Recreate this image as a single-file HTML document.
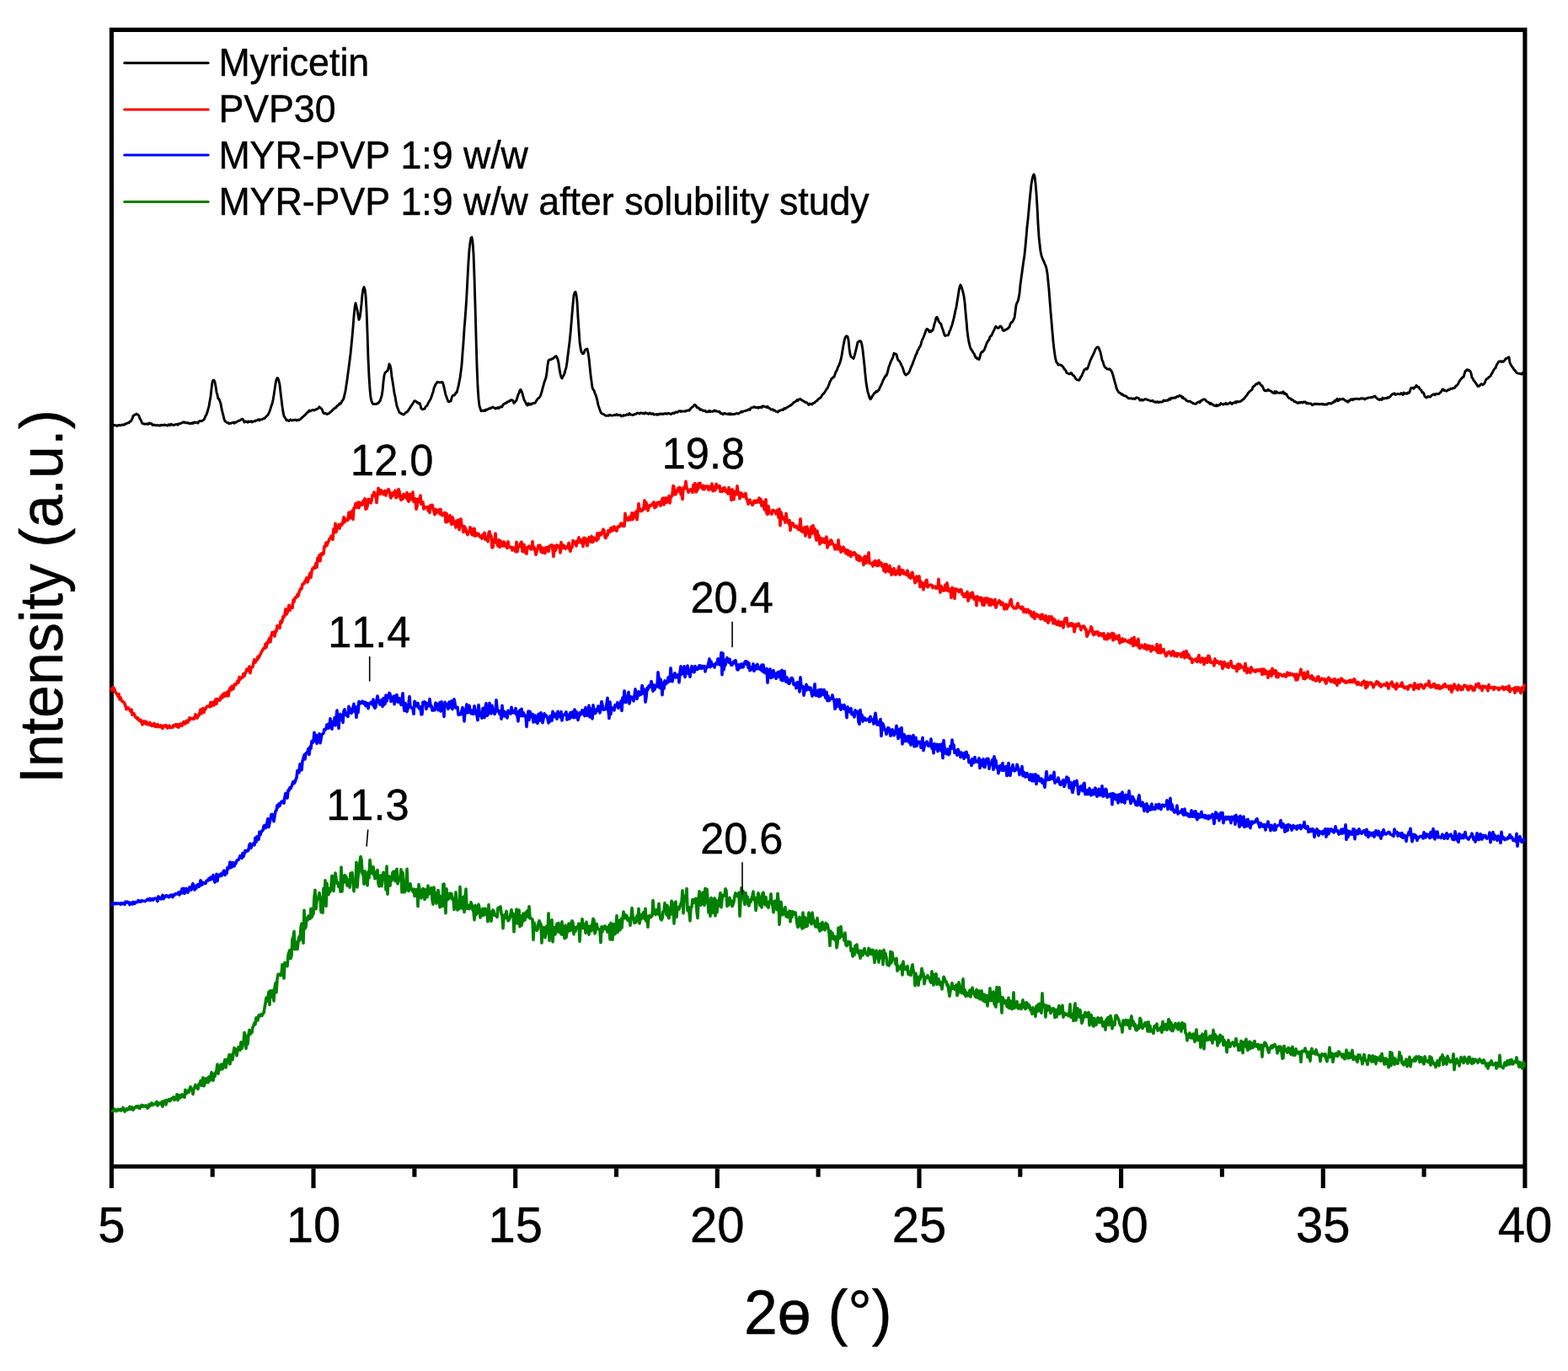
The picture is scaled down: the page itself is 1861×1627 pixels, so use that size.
<!DOCTYPE html>
<html lang="en"><head><meta charset="utf-8"><title>XRD patterns</title>
<style>html,body{margin:0;padding:0;background:#fff}body{width:1861px;height:1627px;overflow:hidden}svg{display:block}text{font-family:"Liberation Sans",sans-serif;fill:#000;stroke:#000;stroke-width:0.45px;stroke-linejoin:round;font-kerning:none;font-variant-ligatures:none;white-space:pre}</style></head><body>
<svg width="1861" height="1627" viewBox="0 0 1861 1627">
<rect x="0" y="0" width="1861" height="1627" fill="#ffffff"/>
<g stroke="#000" stroke-width="5.1" fill="none" stroke-linecap="butt" stroke-linejoin="miter">
<path d="M132.4,1410 L132.4,35.4 L1809.9,35.4 L1809.9,1410"/>
<line x1="132.4" y1="1384.3" x2="1809.9" y2="1384.3"/>
<line x1="252.2" y1="1386.55" x2="252.2" y2="1396.7"/>
<line x1="372.0" y1="1386.55" x2="372.0" y2="1410"/>
<line x1="491.9" y1="1386.55" x2="491.9" y2="1396.7"/>
<line x1="611.7" y1="1386.55" x2="611.7" y2="1410"/>
<line x1="731.5" y1="1386.55" x2="731.5" y2="1396.7"/>
<line x1="851.3" y1="1386.55" x2="851.3" y2="1410"/>
<line x1="971.1" y1="1386.55" x2="971.1" y2="1396.7"/>
<line x1="1091.0" y1="1386.55" x2="1091.0" y2="1410"/>
<line x1="1210.8" y1="1386.55" x2="1210.8" y2="1396.7"/>
<line x1="1330.6" y1="1386.55" x2="1330.6" y2="1410"/>
<line x1="1450.4" y1="1386.55" x2="1450.4" y2="1396.7"/>
<line x1="1570.3" y1="1386.55" x2="1570.3" y2="1410"/>
<line x1="1690.1" y1="1386.55" x2="1690.1" y2="1396.7"/>
</g>
<g fill="none" stroke-linejoin="round" stroke-miterlimit="4" stroke-linecap="butt">
<path stroke="#008000" stroke-width="3.6" d="M132.0,1318.2 L133.0,1318.5 L134.0,1318.1 L135.0,1318.0 L136.0,1316.2 L137.0,1317.5 L138.0,1318.6 L139.0,1318.0 L140.0,1316.4 L141.0,1317.3 L142.0,1317.7 L143.0,1316.4 L144.0,1317.9 L145.0,1316.3 L146.0,1314.5 L147.0,1316.7 L148.0,1319.1 L149.0,1316.3 L150.0,1315.8 L151.0,1317.2 L152.0,1315.7 L153.0,1316.3 L154.0,1313.3 L155.0,1316.2 L156.0,1315.7 L157.0,1314.0 L158.0,1317.2 L159.0,1315.1 L160.0,1315.0 L161.0,1313.4 L162.0,1312.9 L163.0,1314.1 L164.0,1312.6 L165.0,1315.1 L166.0,1315.4 L167.0,1313.1 L168.0,1311.5 L169.0,1313.0 L170.0,1311.8 L171.0,1313.3 L172.0,1313.1 L173.0,1311.9 L174.0,1312.4 L175.0,1315.2 L176.0,1314.4 L177.0,1310.7 L178.0,1312.4 L179.0,1310.6 L180.0,1309.0 L181.0,1311.5 L182.0,1310.8 L183.0,1310.1 L184.0,1310.3 L185.0,1309.2 L186.0,1307.4 L187.0,1312.1 L188.0,1310.4 L189.0,1309.0 L190.0,1310.0 L191.0,1310.4 L192.0,1307.5 L193.0,1313.1 L194.0,1306.7 L195.0,1308.2 L196.0,1306.2 L197.0,1311.0 L198.0,1305.4 L199.0,1306.8 L200.0,1306.4 L201.0,1304.5 L202.0,1306.6 L203.0,1304.3 L204.0,1303.3 L205.0,1303.7 L206.0,1301.8 L207.0,1305.4 L208.0,1303.9 L209.0,1304.2 L210.0,1298.9 L211.0,1305.6 L212.0,1299.2 L213.0,1300.6 L214.0,1302.8 L215.0,1300.2 L216.0,1298.8 L217.0,1301.3 L218.0,1300.7 L219.0,1302.2 L220.0,1293.3 L221.0,1297.9 L222.0,1295.8 L223.0,1294.3 L224.0,1296.2 L225.0,1292.7 L226.0,1289.7 L227.0,1292.5 L228.0,1293.6 L229.0,1298.4 L230.0,1291.6 L231.0,1290.0 L232.0,1287.4 L233.0,1290.9 L234.0,1290.6 L235.0,1292.4 L236.0,1286.2 L237.0,1287.3 L238.0,1282.6 L239.0,1288.3 L240.0,1282.9 L241.0,1278.9 L242.0,1288.8 L243.0,1286.2 L244.0,1280.1 L245.0,1284.3 L246.0,1279.5 L247.0,1284.7 L248.0,1277.8 L249.0,1282.4 L250.0,1279.7 L251.0,1272.6 L252.0,1279.8 L253.0,1282.2 L254.0,1274.4 L255.0,1277.5 L256.0,1272.6 L257.0,1270.3 L258.0,1263.0 L259.0,1274.2 L260.0,1267.8 L261.0,1269.4 L262.0,1263.5 L263.0,1263.1 L264.0,1268.8 L265.0,1264.1 L266.0,1261.5 L267.0,1257.5 L268.0,1267.0 L269.0,1262.2 L270.0,1256.8 L271.0,1256.6 L272.0,1251.8 L273.0,1262.8 L274.0,1251.7 L275.0,1252.2 L276.0,1257.8 L277.0,1249.7 L278.0,1243.6 L279.0,1244.8 L280.0,1245.7 L281.0,1252.7 L282.0,1245.6 L283.0,1242.7 L284.0,1245.5 L285.0,1246.2 L286.0,1236.9 L287.0,1244.3 L288.0,1240.8 L289.0,1237.9 L290.0,1225.3 L291.0,1228.6 L292.0,1244.5 L293.0,1229.7 L294.0,1239.0 L295.0,1228.3 L296.0,1222.2 L297.0,1227.5 L298.0,1224.6 L299.0,1225.3 L300.0,1219.1 L301.0,1217.0 L302.0,1213.9 L303.0,1215.6 L304.0,1207.8 L305.0,1208.0 L306.0,1210.8 L307.0,1205.1 L308.0,1204.3 L309.0,1205.7 L310.0,1204.0 L311.0,1205.3 L312.0,1202.8 L313.0,1202.2 L314.0,1196.4 L315.0,1190.9 L316.0,1184.0 L317.0,1188.1 L318.0,1184.0 L319.0,1177.0 L320.0,1192.4 L321.0,1175.6 L322.0,1183.1 L323.0,1181.3 L324.0,1175.3 L325.0,1187.9 L326.0,1172.6 L327.0,1166.5 L328.0,1177.6 L329.0,1162.0 L330.0,1156.4 L331.0,1156.4 L332.0,1156.1 L333.0,1157.6 L334.0,1157.0 L335.0,1144.6 L336.0,1152.7 L337.0,1161.0 L338.0,1142.4 L339.0,1143.4 L340.0,1145.9 L341.0,1146.7 L342.0,1133.8 L343.0,1129.9 L344.0,1127.5 L345.0,1137.5 L346.0,1134.3 L347.0,1114.2 L348.0,1112.2 L349.0,1105.4 L350.0,1126.6 L351.0,1121.2 L352.0,1118.1 L353.0,1126.6 L354.0,1117.6 L355.0,1111.5 L356.0,1115.9 L357.0,1101.2 L358.0,1096.0 L359.0,1102.8 L360.0,1119.1 L361.0,1080.2 L362.0,1102.1 L363.0,1100.0 L364.0,1089.4 L365.0,1092.1 L366.0,1087.1 L367.0,1087.5 L368.0,1090.4 L369.0,1078.3 L370.0,1088.5 L371.0,1085.8 L372.0,1084.5 L373.0,1064.1 L374.0,1056.3 L375.0,1078.6 L376.0,1068.7 L377.0,1066.6 L378.0,1064.7 L379.0,1059.5 L380.0,1065.1 L381.0,1082.4 L382.0,1074.2 L383.0,1083.1 L384.0,1054.1 L385.0,1068.4 L386.0,1044.7 L387.0,1075.5 L388.0,1048.3 L389.0,1060.3 L390.0,1061.5 L391.0,1054.3 L392.0,1058.3 L393.0,1051.5 L394.0,1039.2 L395.0,1052.7 L396.0,1057.4 L397.0,1044.7 L398.0,1036.0 L399.0,1042.7 L400.0,1048.3 L401.0,1047.4 L402.0,1052.3 L403.0,1047.9 L404.0,1058.1 L405.0,1029.0 L406.0,1057.9 L407.0,1042.3 L408.0,1047.5 L409.0,1038.6 L410.0,1039.6 L411.0,1040.7 L412.0,1051.0 L413.0,1050.3 L414.0,1043.7 L415.0,1053.1 L416.0,1036.2 L417.0,1042.4 L418.0,1035.5 L419.0,1047.6 L420.0,1057.6 L421.0,1045.1 L422.0,1050.2 L423.0,1023.3 L424.0,1052.9 L425.0,1039.7 L426.0,1035.0 L427.0,1023.5 L428.0,1016.5 L429.0,1020.4 L430.0,1037.0 L431.0,1035.1 L432.0,1049.1 L433.0,1033.9 L434.0,1043.8 L435.0,1044.5 L436.0,1050.8 L437.0,1034.6 L438.0,1041.8 L439.0,1020.6 L440.0,1028.9 L441.0,1035.0 L442.0,1036.9 L443.0,1028.8 L444.0,1036.5 L445.0,1042.8 L446.0,1035.0 L447.0,1037.4 L448.0,1032.5 L449.0,1048.7 L450.0,1051.8 L451.0,1040.9 L452.0,1038.8 L453.0,1051.5 L454.0,1043.3 L455.0,1035.3 L456.0,1037.5 L457.0,1036.2 L458.0,1055.9 L459.0,1028.0 L460.0,1061.2 L461.0,1041.2 L462.0,1039.9 L463.0,1051.0 L464.0,1040.3 L465.0,1045.0 L466.0,1035.5 L467.0,1034.4 L468.0,1038.4 L469.0,1045.6 L470.0,1033.1 L471.0,1031.3 L472.0,1048.8 L473.0,1044.8 L474.0,1044.5 L475.0,1042.6 L476.0,1031.7 L477.0,1058.9 L478.0,1035.2 L479.0,1052.4 L480.0,1058.8 L481.0,1057.4 L482.0,1051.4 L483.0,1031.3 L484.0,1053.0 L485.0,1057.5 L486.0,1055.6 L487.0,1048.9 L488.0,1055.5 L489.0,1055.4 L490.0,1058.0 L491.0,1055.0 L492.0,1063.4 L493.0,1055.8 L494.0,1060.9 L495.0,1055.5 L496.0,1075.6 L497.0,1049.6 L498.0,1055.4 L499.0,1060.5 L500.0,1065.9 L501.0,1057.0 L502.0,1054.5 L503.0,1054.9 L504.0,1067.5 L505.0,1059.7 L506.0,1055.9 L507.0,1064.7 L508.0,1051.0 L509.0,1061.1 L510.0,1060.4 L511.0,1060.1 L512.0,1053.5 L513.0,1068.2 L514.0,1073.2 L515.0,1053.1 L516.0,1063.1 L517.0,1066.8 L518.0,1072.1 L519.0,1059.9 L520.0,1056.5 L521.0,1063.0 L522.0,1076.7 L523.0,1063.7 L524.0,1065.2 L525.0,1075.5 L526.0,1049.2 L527.0,1049.1 L528.0,1070.0 L529.0,1083.8 L530.0,1054.8 L531.0,1067.9 L532.0,1065.0 L533.0,1066.5 L534.0,1060.1 L535.0,1063.0 L536.0,1060.7 L537.0,1067.4 L538.0,1066.1 L539.0,1079.5 L540.0,1073.0 L541.0,1058.8 L542.0,1072.7 L543.0,1080.0 L544.0,1072.8 L545.0,1078.6 L546.0,1052.3 L547.0,1076.9 L548.0,1066.4 L549.0,1078.3 L550.0,1064.3 L551.0,1082.4 L552.0,1064.1 L553.0,1055.1 L554.0,1078.3 L555.0,1074.0 L556.0,1076.2 L557.0,1078.7 L558.0,1076.0 L559.0,1070.8 L560.0,1073.4 L561.0,1079.9 L562.0,1081.3 L563.0,1091.7 L564.0,1074.3 L565.0,1085.7 L566.0,1083.8 L567.0,1077.8 L568.0,1073.3 L569.0,1077.9 L570.0,1089.0 L571.0,1080.6 L572.0,1086.7 L573.0,1078.2 L574.0,1086.2 L575.0,1079.1 L576.0,1078.2 L577.0,1084.6 L578.0,1084.4 L579.0,1093.7 L580.0,1073.6 L581.0,1087.6 L582.0,1087.3 L583.0,1093.2 L584.0,1081.9 L585.0,1080.0 L586.0,1081.2 L587.0,1086.4 L588.0,1086.2 L589.0,1086.8 L590.0,1088.4 L591.0,1077.6 L592.0,1077.2 L593.0,1076.7 L594.0,1076.0 L595.0,1084.2 L596.0,1087.0 L597.0,1101.6 L598.0,1088.8 L599.0,1085.6 L600.0,1089.3 L601.0,1081.2 L602.0,1088.4 L603.0,1092.7 L604.0,1091.8 L605.0,1089.6 L606.0,1085.0 L607.0,1079.5 L608.0,1086.9 L609.0,1084.3 L610.0,1105.8 L611.0,1087.9 L612.0,1092.7 L613.0,1079.0 L614.0,1095.9 L615.0,1084.4 L616.0,1080.1 L617.0,1099.6 L618.0,1086.7 L619.0,1098.2 L620.0,1093.6 L621.0,1084.1 L622.0,1092.5 L623.0,1091.7 L624.0,1082.7 L625.0,1086.8 L626.0,1080.5 L627.0,1088.4 L628.0,1075.7 L629.0,1089.8 L630.0,1089.4 L631.0,1090.7 L632.0,1091.1 L633.0,1115.3 L634.0,1095.0 L635.0,1099.2 L636.0,1102.9 L637.0,1104.2 L638.0,1103.2 L639.0,1095.8 L640.0,1092.7 L641.0,1095.0 L642.0,1097.3 L643.0,1118.9 L644.0,1100.2 L645.0,1107.9 L646.0,1100.6 L647.0,1112.6 L648.0,1108.0 L649.0,1098.7 L650.0,1107.2 L651.0,1083.9 L652.0,1116.3 L653.0,1104.6 L654.0,1104.5 L655.0,1091.5 L656.0,1117.8 L657.0,1100.4 L658.0,1101.0 L659.0,1108.9 L660.0,1100.6 L661.0,1096.4 L662.0,1105.8 L663.0,1095.3 L664.0,1106.3 L665.0,1102.4 L666.0,1108.6 L667.0,1093.9 L668.0,1109.2 L669.0,1103.2 L670.0,1113.6 L671.0,1098.0 L672.0,1112.6 L673.0,1105.3 L674.0,1105.7 L675.0,1096.0 L676.0,1104.0 L677.0,1104.5 L678.0,1095.0 L679.0,1092.8 L680.0,1095.0 L681.0,1108.8 L682.0,1100.4 L683.0,1105.1 L684.0,1100.8 L685.0,1099.6 L686.0,1100.1 L687.0,1096.0 L688.0,1117.1 L689.0,1099.9 L690.0,1100.4 L691.0,1090.5 L692.0,1101.5 L693.0,1100.6 L694.0,1097.1 L695.0,1107.1 L696.0,1094.0 L697.0,1100.0 L698.0,1105.5 L699.0,1109.1 L700.0,1099.0 L701.0,1104.6 L702.0,1104.7 L703.0,1096.2 L704.0,1090.3 L705.0,1091.9 L706.0,1107.9 L707.0,1105.0 L708.0,1096.2 L709.0,1100.7 L710.0,1102.3 L711.0,1102.6 L712.0,1104.6 L713.0,1118.5 L714.0,1099.9 L715.0,1105.6 L716.0,1099.9 L717.0,1100.6 L718.0,1098.9 L719.0,1102.8 L720.0,1100.7 L721.0,1106.1 L722.0,1104.9 L723.0,1097.7 L724.0,1114.9 L725.0,1095.2 L726.0,1104.2 L727.0,1115.1 L728.0,1096.5 L729.0,1108.6 L730.0,1108.5 L731.0,1101.1 L732.0,1086.6 L733.0,1106.5 L734.0,1097.4 L735.0,1092.7 L736.0,1103.6 L737.0,1090.3 L738.0,1101.0 L739.0,1090.2 L740.0,1082.0 L741.0,1085.8 L742.0,1089.7 L743.0,1086.0 L744.0,1086.9 L745.0,1092.2 L746.0,1089.6 L747.0,1091.5 L748.0,1098.2 L749.0,1088.9 L750.0,1077.5 L751.0,1087.2 L752.0,1089.3 L753.0,1095.1 L754.0,1095.0 L755.0,1094.3 L756.0,1086.5 L757.0,1092.0 L758.0,1078.4 L759.0,1095.9 L760.0,1090.3 L761.0,1090.6 L762.0,1084.8 L763.0,1087.5 L764.0,1082.7 L765.0,1090.6 L766.0,1078.4 L767.0,1093.2 L768.0,1090.5 L769.0,1100.1 L770.0,1086.9 L771.0,1086.6 L772.0,1088.6 L773.0,1087.7 L774.0,1086.8 L775.0,1068.6 L776.0,1080.3 L777.0,1083.7 L778.0,1085.4 L779.0,1079.5 L780.0,1079.5 L781.0,1084.9 L782.0,1072.4 L783.0,1085.0 L784.0,1090.3 L785.0,1091.8 L786.0,1090.0 L787.0,1081.9 L788.0,1081.5 L789.0,1071.5 L790.0,1078.5 L791.0,1085.4 L792.0,1074.6 L793.0,1087.5 L794.0,1089.7 L795.0,1077.3 L796.0,1085.1 L797.0,1069.2 L798.0,1071.0 L799.0,1074.8 L800.0,1096.0 L801.0,1075.0 L802.0,1070.1 L803.0,1088.4 L804.0,1077.0 L805.0,1076.7 L806.0,1079.0 L807.0,1075.5 L808.0,1072.6 L809.0,1070.4 L810.0,1056.7 L811.0,1083.8 L812.0,1067.9 L813.0,1063.0 L814.0,1068.7 L815.0,1054.6 L816.0,1080.6 L817.0,1076.2 L818.0,1082.9 L819.0,1092.7 L820.0,1076.8 L821.0,1076.5 L822.0,1067.5 L823.0,1071.4 L824.0,1067.6 L825.0,1071.5 L826.0,1066.2 L827.0,1081.2 L828.0,1089.5 L829.0,1068.8 L830.0,1057.9 L831.0,1073.2 L832.0,1074.1 L833.0,1067.4 L834.0,1059.1 L835.0,1070.2 L836.0,1074.3 L837.0,1054.4 L838.0,1071.0 L839.0,1055.2 L840.0,1068.0 L841.0,1082.9 L842.0,1068.2 L843.0,1087.1 L844.0,1065.6 L845.0,1067.8 L846.0,1083.5 L847.0,1076.8 L848.0,1065.9 L849.0,1086.8 L850.0,1068.2 L851.0,1082.7 L852.0,1069.5 L853.0,1075.5 L854.0,1065.6 L855.0,1059.5 L856.0,1076.7 L857.0,1067.2 L858.0,1062.4 L859.0,1062.9 L860.0,1063.0 L861.0,1054.8 L862.0,1057.2 L863.0,1075.5 L864.0,1070.1 L865.0,1074.1 L866.0,1065.3 L867.0,1070.0 L868.0,1068.8 L869.0,1075.6 L870.0,1073.2 L871.0,1070.2 L872.0,1063.5 L873.0,1059.8 L874.0,1062.5 L875.0,1063.5 L876.0,1064.1 L877.0,1059.3 L878.0,1087.1 L879.0,1069.1 L880.0,1053.6 L881.0,1059.6 L882.0,1057.7 L883.0,1068.0 L884.0,1073.3 L885.0,1059.5 L886.0,1070.1 L887.0,1064.0 L888.0,1073.5 L889.0,1074.9 L890.0,1067.8 L891.0,1070.5 L892.0,1065.7 L893.0,1063.3 L894.0,1058.1 L895.0,1068.1 L896.0,1065.5 L897.0,1080.5 L898.0,1072.5 L899.0,1065.2 L900.0,1059.7 L901.0,1063.3 L902.0,1074.7 L903.0,1065.8 L904.0,1076.9 L905.0,1060.2 L906.0,1059.2 L907.0,1069.2 L908.0,1073.8 L909.0,1064.6 L910.0,1073.4 L911.0,1075.8 L912.0,1077.1 L913.0,1069.7 L914.0,1070.6 L915.0,1060.7 L916.0,1072.3 L917.0,1074.7 L918.0,1082.8 L919.0,1069.6 L920.0,1069.3 L921.0,1068.9 L922.0,1079.7 L923.0,1060.2 L924.0,1070.3 L925.0,1097.2 L926.0,1082.7 L927.0,1070.4 L928.0,1079.2 L929.0,1085.6 L930.0,1084.3 L931.0,1079.8 L932.0,1076.7 L933.0,1087.7 L934.0,1082.7 L935.0,1088.5 L936.0,1086.3 L937.0,1081.1 L938.0,1093.8 L939.0,1081.8 L940.0,1088.1 L941.0,1081.8 L942.0,1084.7 L943.0,1085.0 L944.0,1082.8 L945.0,1089.0 L946.0,1096.2 L947.0,1100.2 L948.0,1097.9 L949.0,1088.2 L950.0,1098.9 L951.0,1092.8 L952.0,1102.0 L953.0,1083.1 L954.0,1100.9 L955.0,1088.2 L956.0,1099.8 L957.0,1090.1 L958.0,1099.3 L959.0,1092.4 L960.0,1083.0 L961.0,1089.3 L962.0,1094.4 L963.0,1096.6 L964.0,1083.0 L965.0,1090.0 L966.0,1093.3 L967.0,1096.9 L968.0,1099.9 L969.0,1093.6 L970.0,1089.5 L971.0,1100.9 L972.0,1097.1 L973.0,1104.9 L974.0,1096.3 L975.0,1103.7 L976.0,1094.4 L977.0,1101.9 L978.0,1101.1 L979.0,1103.6 L980.0,1095.4 L981.0,1100.8 L982.0,1096.9 L983.0,1101.7 L984.0,1107.1 L985.0,1122.3 L986.0,1105.0 L987.0,1110.0 L988.0,1107.2 L989.0,1114.2 L990.0,1110.9 L991.0,1115.3 L992.0,1111.8 L993.0,1124.8 L994.0,1119.2 L995.0,1101.1 L996.0,1113.7 L997.0,1112.7 L998.0,1099.5 L999.0,1108.1 L1000.0,1111.1 L1001.0,1110.1 L1002.0,1116.1 L1003.0,1107.0 L1004.0,1121.4 L1005.0,1122.4 L1006.0,1120.6 L1007.0,1117.4 L1008.0,1120.1 L1009.0,1118.1 L1010.0,1128.4 L1011.0,1125.4 L1012.0,1134.9 L1013.0,1128.9 L1014.0,1133.3 L1015.0,1122.2 L1016.0,1125.4 L1017.0,1121.0 L1018.0,1130.7 L1019.0,1127.7 L1020.0,1131.9 L1021.0,1137.2 L1022.0,1128.3 L1023.0,1130.8 L1024.0,1133.8 L1025.0,1128.3 L1026.0,1125.5 L1027.0,1130.8 L1028.0,1131.7 L1029.0,1133.4 L1030.0,1133.8 L1031.0,1125.2 L1032.0,1131.9 L1033.0,1131.9 L1034.0,1127.3 L1035.0,1132.5 L1036.0,1127.4 L1037.0,1132.5 L1038.0,1142.2 L1039.0,1133.9 L1040.0,1128.1 L1041.0,1136.3 L1042.0,1136.2 L1043.0,1141.9 L1044.0,1128.3 L1045.0,1131.5 L1046.0,1136.8 L1047.0,1129.0 L1048.0,1144.7 L1049.0,1127.4 L1050.0,1134.7 L1051.0,1131.5 L1052.0,1136.5 L1053.0,1144.9 L1054.0,1144.0 L1055.0,1145.9 L1056.0,1144.1 L1057.0,1129.3 L1058.0,1142.4 L1059.0,1130.4 L1060.0,1138.0 L1061.0,1138.8 L1062.0,1138.2 L1063.0,1144.3 L1064.0,1137.4 L1065.0,1152.1 L1066.0,1146.3 L1067.0,1150.1 L1068.0,1148.3 L1069.0,1149.7 L1070.0,1145.1 L1071.0,1156.9 L1072.0,1141.0 L1073.0,1150.1 L1074.0,1148.3 L1075.0,1147.8 L1076.0,1150.9 L1077.0,1146.5 L1078.0,1156.1 L1079.0,1156.4 L1080.0,1153.3 L1081.0,1157.4 L1082.0,1148.4 L1083.0,1144.8 L1084.0,1152.0 L1085.0,1154.4 L1086.0,1169.6 L1087.0,1155.4 L1088.0,1162.7 L1089.0,1162.1 L1090.0,1169.3 L1091.0,1159.0 L1092.0,1162.2 L1093.0,1158.0 L1094.0,1149.3 L1095.0,1154.2 L1096.0,1155.6 L1097.0,1167.6 L1098.0,1161.7 L1099.0,1159.5 L1100.0,1160.5 L1101.0,1157.6 L1102.0,1160.5 L1103.0,1160.6 L1104.0,1164.5 L1105.0,1166.0 L1106.0,1152.7 L1107.0,1162.8 L1108.0,1169.0 L1109.0,1156.5 L1110.0,1160.8 L1111.0,1155.7 L1112.0,1168.3 L1113.0,1165.9 L1114.0,1161.8 L1115.0,1165.9 L1116.0,1168.9 L1117.0,1165.8 L1118.0,1173.9 L1119.0,1166.6 L1120.0,1159.2 L1121.0,1161.0 L1122.0,1164.8 L1123.0,1164.8 L1124.0,1169.5 L1125.0,1168.5 L1126.0,1176.0 L1127.0,1182.2 L1128.0,1175.6 L1129.0,1171.5 L1130.0,1166.7 L1131.0,1173.1 L1132.0,1170.7 L1133.0,1174.1 L1134.0,1172.8 L1135.0,1168.9 L1136.0,1181.4 L1137.0,1179.1 L1138.0,1165.7 L1139.0,1171.0 L1140.0,1174.6 L1141.0,1178.2 L1142.0,1174.6 L1143.0,1161.7 L1144.0,1179.7 L1145.0,1174.6 L1146.0,1182.1 L1147.0,1177.8 L1148.0,1181.7 L1149.0,1181.1 L1150.0,1181.7 L1151.0,1175.0 L1152.0,1183.0 L1153.0,1179.1 L1154.0,1172.1 L1155.0,1176.7 L1156.0,1177.3 L1157.0,1181.7 L1158.0,1183.1 L1159.0,1174.4 L1160.0,1184.0 L1161.0,1180.5 L1162.0,1176.0 L1163.0,1185.8 L1164.0,1178.3 L1165.0,1175.8 L1166.0,1186.6 L1167.0,1187.5 L1168.0,1180.0 L1169.0,1188.7 L1170.0,1188.6 L1171.0,1181.3 L1172.0,1193.8 L1173.0,1183.8 L1174.0,1185.4 L1175.0,1172.7 L1176.0,1187.7 L1177.0,1181.7 L1178.0,1187.1 L1179.0,1176.7 L1180.0,1191.0 L1181.0,1192.7 L1182.0,1195.0 L1183.0,1171.5 L1184.0,1189.1 L1185.0,1188.1 L1186.0,1171.8 L1187.0,1183.2 L1188.0,1186.6 L1189.0,1201.9 L1190.0,1183.6 L1191.0,1186.3 L1192.0,1188.2 L1193.0,1190.7 L1194.0,1187.5 L1195.0,1194.2 L1196.0,1195.0 L1197.0,1184.1 L1198.0,1196.5 L1199.0,1187.9 L1200.0,1190.5 L1201.0,1197.5 L1202.0,1195.1 L1203.0,1177.9 L1204.0,1196.5 L1205.0,1190.8 L1206.0,1190.4 L1207.0,1188.6 L1208.0,1196.5 L1209.0,1196.9 L1210.0,1195.0 L1211.0,1192.4 L1212.0,1197.4 L1213.0,1193.2 L1214.0,1186.9 L1215.0,1194.8 L1216.0,1196.0 L1217.0,1197.4 L1218.0,1189.6 L1219.0,1190.4 L1220.0,1195.8 L1221.0,1192.2 L1222.0,1194.1 L1223.0,1199.0 L1224.0,1196.4 L1225.0,1203.2 L1226.0,1195.8 L1227.0,1202.5 L1228.0,1199.3 L1229.0,1206.2 L1230.0,1194.0 L1231.0,1193.4 L1232.0,1199.9 L1233.0,1191.2 L1234.0,1191.4 L1235.0,1199.7 L1236.0,1202.1 L1237.0,1178.9 L1238.0,1194.8 L1239.0,1192.2 L1240.0,1193.6 L1241.0,1206.9 L1242.0,1193.1 L1243.0,1199.3 L1244.0,1196.8 L1245.0,1194.0 L1246.0,1195.6 L1247.0,1202.4 L1248.0,1199.9 L1249.0,1199.2 L1250.0,1196.5 L1251.0,1198.2 L1252.0,1207.5 L1253.0,1198.3 L1254.0,1206.7 L1255.0,1203.2 L1256.0,1197.6 L1257.0,1193.4 L1258.0,1203.2 L1259.0,1197.3 L1260.0,1197.6 L1261.0,1193.2 L1262.0,1207.1 L1263.0,1202.3 L1264.0,1202.3 L1265.0,1204.3 L1266.0,1203.9 L1267.0,1203.4 L1268.0,1205.6 L1269.0,1202.2 L1270.0,1191.8 L1271.0,1207.2 L1272.0,1205.9 L1273.0,1204.1 L1274.0,1211.4 L1275.0,1197.7 L1276.0,1190.9 L1277.0,1211.0 L1278.0,1206.0 L1279.0,1196.6 L1280.0,1202.2 L1281.0,1206.9 L1282.0,1198.6 L1283.0,1206.8 L1284.0,1214.2 L1285.0,1211.1 L1286.0,1204.9 L1287.0,1206.8 L1288.0,1201.4 L1289.0,1206.7 L1290.0,1205.1 L1291.0,1202.5 L1292.0,1201.4 L1293.0,1216.7 L1294.0,1208.8 L1295.0,1204.4 L1296.0,1207.6 L1297.0,1216.8 L1298.0,1217.9 L1299.0,1208.5 L1300.0,1212.7 L1301.0,1216.2 L1302.0,1211.1 L1303.0,1207.8 L1304.0,1209.0 L1305.0,1213.5 L1306.0,1210.2 L1307.0,1208.0 L1308.0,1212.7 L1309.0,1217.9 L1310.0,1216.8 L1311.0,1212.8 L1312.0,1222.1 L1313.0,1210.1 L1314.0,1213.1 L1315.0,1207.2 L1316.0,1216.6 L1317.0,1212.4 L1318.0,1205.4 L1319.0,1209.0 L1320.0,1220.6 L1321.0,1215.7 L1322.0,1213.0 L1323.0,1216.3 L1324.0,1205.4 L1325.0,1205.0 L1326.0,1206.6 L1327.0,1208.8 L1328.0,1210.8 L1329.0,1215.0 L1330.0,1217.2 L1331.0,1217.2 L1332.0,1224.9 L1333.0,1211.1 L1334.0,1213.4 L1335.0,1216.0 L1336.0,1210.4 L1337.0,1213.0 L1338.0,1216.3 L1339.0,1210.9 L1340.0,1217.1 L1341.0,1220.7 L1342.0,1210.7 L1343.0,1205.9 L1344.0,1216.5 L1345.0,1211.9 L1346.0,1217.5 L1347.0,1215.1 L1348.0,1222.3 L1349.0,1222.7 L1350.0,1221.7 L1351.0,1216.9 L1352.0,1220.2 L1353.0,1208.4 L1354.0,1210.1 L1355.0,1216.3 L1356.0,1220.4 L1357.0,1217.3 L1358.0,1217.9 L1359.0,1213.8 L1360.0,1213.7 L1361.0,1213.5 L1362.0,1223.7 L1363.0,1212.7 L1364.0,1224.1 L1365.0,1217.4 L1366.0,1223.6 L1367.0,1222.3 L1368.0,1224.5 L1369.0,1226.3 L1370.0,1217.9 L1371.0,1217.1 L1372.0,1219.3 L1373.0,1215.0 L1374.0,1223.1 L1375.0,1220.5 L1376.0,1221.0 L1377.0,1222.6 L1378.0,1218.7 L1379.0,1225.2 L1380.0,1212.3 L1381.0,1220.8 L1382.0,1221.5 L1383.0,1215.7 L1384.0,1215.6 L1385.0,1222.2 L1386.0,1216.7 L1387.0,1209.5 L1388.0,1211.8 L1389.0,1221.9 L1390.0,1213.7 L1391.0,1223.2 L1392.0,1223.5 L1393.0,1216.8 L1394.0,1220.1 L1395.0,1214.4 L1396.0,1216.5 L1397.0,1215.6 L1398.0,1221.6 L1399.0,1214.1 L1400.0,1219.7 L1401.0,1221.2 L1402.0,1224.0 L1403.0,1213.5 L1404.0,1215.7 L1405.0,1220.2 L1406.0,1215.2 L1407.0,1225.8 L1408.0,1226.6 L1409.0,1234.8 L1410.0,1229.6 L1411.0,1229.9 L1412.0,1225.9 L1413.0,1231.6 L1414.0,1231.6 L1415.0,1231.9 L1416.0,1227.1 L1417.0,1227.2 L1418.0,1236.4 L1419.0,1227.2 L1420.0,1221.9 L1421.0,1234.3 L1422.0,1234.2 L1423.0,1230.5 L1424.0,1229.8 L1425.0,1243.0 L1426.0,1230.1 L1427.0,1227.2 L1428.0,1230.4 L1429.0,1244.8 L1430.0,1230.3 L1431.0,1223.8 L1432.0,1234.4 L1433.0,1231.6 L1434.0,1234.0 L1435.0,1233.5 L1436.0,1229.5 L1437.0,1234.2 L1438.0,1229.4 L1439.0,1237.9 L1440.0,1222.3 L1441.0,1233.5 L1442.0,1227.3 L1443.0,1232.9 L1444.0,1229.8 L1445.0,1240.9 L1446.0,1234.6 L1447.0,1237.3 L1448.0,1228.3 L1449.0,1230.5 L1450.0,1234.9 L1451.0,1230.3 L1452.0,1240.4 L1453.0,1234.4 L1454.0,1237.4 L1455.0,1237.6 L1456.0,1248.7 L1457.0,1239.9 L1458.0,1234.4 L1459.0,1238.7 L1460.0,1242.2 L1461.0,1238.6 L1462.0,1238.5 L1463.0,1236.9 L1464.0,1238.7 L1465.0,1241.3 L1466.0,1237.9 L1467.0,1232.5 L1468.0,1239.9 L1469.0,1238.8 L1470.0,1246.4 L1471.0,1239.9 L1472.0,1246.0 L1473.0,1235.4 L1474.0,1236.4 L1475.0,1249.5 L1476.0,1236.5 L1477.0,1241.7 L1478.0,1236.9 L1479.0,1233.3 L1480.0,1243.5 L1481.0,1246.3 L1482.0,1242.0 L1483.0,1236.0 L1484.0,1244.5 L1485.0,1237.6 L1486.0,1239.8 L1487.0,1243.3 L1488.0,1238.9 L1489.0,1235.5 L1490.0,1241.5 L1491.0,1241.9 L1492.0,1239.9 L1493.0,1239.3 L1494.0,1245.1 L1495.0,1242.0 L1496.0,1240.6 L1497.0,1240.1 L1498.0,1254.1 L1499.0,1242.8 L1500.0,1241.8 L1501.0,1237.2 L1502.0,1237.8 L1503.0,1240.1 L1504.0,1242.7 L1505.0,1246.8 L1506.0,1249.2 L1507.0,1244.9 L1508.0,1242.9 L1509.0,1241.2 L1510.0,1243.7 L1511.0,1240.7 L1512.0,1241.2 L1513.0,1239.4 L1514.0,1242.5 L1515.0,1242.5 L1516.0,1249.9 L1517.0,1245.3 L1518.0,1242.0 L1519.0,1246.6 L1520.0,1242.2 L1521.0,1248.0 L1522.0,1256.1 L1523.0,1255.6 L1524.0,1241.2 L1525.0,1245.2 L1526.0,1245.4 L1527.0,1247.3 L1528.0,1249.1 L1529.0,1243.3 L1530.0,1244.5 L1531.0,1248.5 L1532.0,1251.2 L1533.0,1243.7 L1534.0,1242.3 L1535.0,1252.2 L1536.0,1251.2 L1537.0,1252.2 L1538.0,1244.8 L1539.0,1247.7 L1540.0,1249.3 L1541.0,1250.2 L1542.0,1248.3 L1543.0,1248.7 L1544.0,1260.3 L1545.0,1247.5 L1546.0,1247.2 L1547.0,1247.7 L1548.0,1247.5 L1549.0,1244.1 L1550.0,1248.7 L1551.0,1247.9 L1552.0,1254.6 L1553.0,1250.7 L1554.0,1248.5 L1555.0,1259.2 L1556.0,1247.9 L1557.0,1244.4 L1558.0,1249.9 L1559.0,1248.3 L1560.0,1249.1 L1561.0,1250.9 L1562.0,1245.7 L1563.0,1249.5 L1564.0,1251.8 L1565.0,1252.0 L1566.0,1252.1 L1567.0,1259.4 L1568.0,1253.6 L1569.0,1250.8 L1570.0,1251.0 L1571.0,1252.5 L1572.0,1253.2 L1573.0,1250.8 L1574.0,1257.2 L1575.0,1259.6 L1576.0,1254.3 L1577.0,1253.9 L1578.0,1243.0 L1579.0,1254.4 L1580.0,1254.2 L1581.0,1250.0 L1582.0,1260.3 L1583.0,1254.8 L1584.0,1251.2 L1585.0,1250.7 L1586.0,1249.9 L1587.0,1253.5 L1588.0,1252.9 L1589.0,1247.9 L1590.0,1249.3 L1591.0,1250.6 L1592.0,1251.8 L1593.0,1254.4 L1594.0,1251.0 L1595.0,1255.6 L1596.0,1256.7 L1597.0,1253.8 L1598.0,1246.1 L1599.0,1253.2 L1600.0,1255.9 L1601.0,1249.8 L1602.0,1255.3 L1603.0,1254.9 L1604.0,1249.7 L1605.0,1246.4 L1606.0,1257.3 L1607.0,1253.5 L1608.0,1256.8 L1609.0,1254.5 L1610.0,1258.2 L1611.0,1260.3 L1612.0,1251.7 L1613.0,1255.7 L1614.0,1252.1 L1615.0,1256.1 L1616.0,1257.5 L1617.0,1262.8 L1618.0,1256.5 L1619.0,1251.4 L1620.0,1256.8 L1621.0,1259.0 L1622.0,1259.4 L1623.0,1263.3 L1624.0,1257.9 L1625.0,1252.6 L1626.0,1254.4 L1627.0,1256.6 L1628.0,1260.0 L1629.0,1252.7 L1630.0,1259.8 L1631.0,1259.0 L1632.0,1254.1 L1633.0,1262.6 L1634.0,1254.7 L1635.0,1257.3 L1636.0,1256.4 L1637.0,1258.3 L1638.0,1253.6 L1639.0,1259.3 L1640.0,1250.3 L1641.0,1256.3 L1642.0,1255.7 L1643.0,1262.9 L1644.0,1259.4 L1645.0,1256.0 L1646.0,1262.6 L1647.0,1257.8 L1648.0,1266.6 L1649.0,1265.2 L1650.0,1248.5 L1651.0,1264.5 L1652.0,1249.6 L1653.0,1261.3 L1654.0,1255.2 L1655.0,1263.3 L1656.0,1256.2 L1657.0,1261.7 L1658.0,1258.9 L1659.0,1262.2 L1660.0,1258.4 L1661.0,1248.6 L1662.0,1256.1 L1663.0,1253.4 L1664.0,1261.8 L1665.0,1260.6 L1666.0,1263.9 L1667.0,1260.5 L1668.0,1259.7 L1669.0,1257.2 L1670.0,1265.6 L1671.0,1260.0 L1672.0,1258.6 L1673.0,1254.4 L1674.0,1265.7 L1675.0,1259.3 L1676.0,1258.6 L1677.0,1257.6 L1678.0,1259.0 L1679.0,1255.4 L1680.0,1259.1 L1681.0,1253.9 L1682.0,1256.1 L1683.0,1256.4 L1684.0,1253.8 L1685.0,1260.4 L1686.0,1258.9 L1687.0,1254.8 L1688.0,1257.3 L1689.0,1261.2 L1690.0,1262.7 L1691.0,1253.7 L1692.0,1257.1 L1693.0,1258.9 L1694.0,1259.8 L1695.0,1258.7 L1696.0,1260.9 L1697.0,1253.9 L1698.0,1264.0 L1699.0,1255.1 L1700.0,1259.1 L1701.0,1260.7 L1702.0,1262.9 L1703.0,1262.1 L1704.0,1266.5 L1705.0,1263.4 L1706.0,1258.8 L1707.0,1261.8 L1708.0,1264.5 L1709.0,1256.9 L1710.0,1254.8 L1711.0,1256.1 L1712.0,1251.9 L1713.0,1263.4 L1714.0,1255.0 L1715.0,1260.3 L1716.0,1261.1 L1717.0,1263.0 L1718.0,1253.3 L1719.0,1256.6 L1720.0,1258.6 L1721.0,1260.5 L1722.0,1259.6 L1723.0,1258.3 L1724.0,1260.3 L1725.0,1250.7 L1726.0,1269.4 L1727.0,1261.9 L1728.0,1262.0 L1729.0,1256.8 L1730.0,1260.3 L1731.0,1260.8 L1732.0,1264.9 L1733.0,1259.0 L1734.0,1254.6 L1735.0,1259.2 L1736.0,1257.6 L1737.0,1261.5 L1738.0,1254.3 L1739.0,1257.9 L1740.0,1259.4 L1741.0,1257.0 L1742.0,1262.1 L1743.0,1254.7 L1744.0,1254.4 L1745.0,1257.4 L1746.0,1261.3 L1747.0,1262.2 L1748.0,1256.7 L1749.0,1261.4 L1750.0,1259.5 L1751.0,1257.1 L1752.0,1259.4 L1753.0,1258.3 L1754.0,1261.3 L1755.0,1259.9 L1756.0,1256.9 L1757.0,1258.2 L1758.0,1258.6 L1759.0,1261.4 L1760.0,1261.6 L1761.0,1257.8 L1762.0,1260.2 L1763.0,1262.0 L1764.0,1265.2 L1765.0,1262.1 L1766.0,1267.9 L1767.0,1261.7 L1768.0,1264.2 L1769.0,1260.9 L1770.0,1258.8 L1771.0,1262.5 L1772.0,1263.8 L1773.0,1263.4 L1774.0,1262.8 L1775.0,1261.3 L1776.0,1268.0 L1777.0,1261.5 L1778.0,1264.0 L1779.0,1265.5 L1780.0,1252.3 L1781.0,1264.4 L1782.0,1266.0 L1783.0,1266.6 L1784.0,1267.6 L1785.0,1264.6 L1786.0,1261.0 L1787.0,1262.1 L1788.0,1264.2 L1789.0,1258.9 L1790.0,1259.9 L1791.0,1263.1 L1792.0,1258.1 L1793.0,1262.6 L1794.0,1257.6 L1795.0,1263.0 L1796.0,1262.5 L1797.0,1260.5 L1798.0,1259.2 L1799.0,1260.6 L1800.0,1254.9 L1801.0,1260.9 L1802.0,1262.6 L1803.0,1266.1 L1804.0,1260.4 L1805.0,1266.0 L1806.0,1266.6 L1807.0,1267.7 L1808.0,1260.3 L1809.0,1265.3 L1809.3,1260.9"/>
<path stroke="#0000ff" stroke-width="3.6" d="M132.0,1072.1 L133.0,1073.5 L134.0,1071.8 L135.0,1072.8 L136.0,1071.8 L137.0,1072.6 L138.0,1071.8 L139.0,1072.4 L140.0,1072.2 L141.0,1072.0 L142.0,1072.6 L143.0,1073.2 L144.0,1071.7 L145.0,1072.6 L146.0,1072.0 L147.0,1071.8 L148.0,1073.4 L149.0,1070.1 L150.0,1071.1 L151.0,1070.1 L152.0,1071.2 L153.0,1071.1 L154.0,1073.6 L155.0,1071.4 L156.0,1072.5 L157.0,1072.9 L158.0,1070.4 L159.0,1072.4 L160.0,1072.2 L161.0,1070.6 L162.0,1070.5 L163.0,1070.6 L164.0,1068.7 L165.0,1069.2 L166.0,1070.1 L167.0,1070.2 L168.0,1068.7 L169.0,1069.1 L170.0,1069.2 L171.0,1069.3 L172.0,1069.7 L173.0,1069.0 L174.0,1068.5 L175.0,1067.1 L176.0,1067.3 L177.0,1068.4 L178.0,1066.4 L179.0,1068.2 L180.0,1067.1 L181.0,1066.7 L182.0,1068.1 L183.0,1066.5 L184.0,1066.1 L185.0,1066.1 L186.0,1066.8 L187.0,1069.6 L188.0,1063.9 L189.0,1066.1 L190.0,1065.6 L191.0,1066.8 L192.0,1065.1 L193.0,1062.4 L194.0,1066.7 L195.0,1063.6 L196.0,1064.6 L197.0,1062.8 L198.0,1062.8 L199.0,1063.3 L200.0,1064.8 L201.0,1064.5 L202.0,1062.4 L203.0,1063.6 L204.0,1062.1 L205.0,1064.7 L206.0,1062.2 L207.0,1062.5 L208.0,1060.5 L209.0,1060.8 L210.0,1061.0 L211.0,1060.4 L212.0,1058.8 L213.0,1062.0 L214.0,1058.5 L215.0,1059.9 L216.0,1054.8 L217.0,1059.8 L218.0,1054.3 L219.0,1060.3 L220.0,1056.5 L221.0,1054.5 L222.0,1056.2 L223.0,1059.1 L224.0,1056.0 L225.0,1052.9 L226.0,1053.7 L227.0,1056.2 L228.0,1051.4 L229.0,1048.6 L230.0,1052.4 L231.0,1056.1 L232.0,1051.7 L233.0,1054.0 L234.0,1050.2 L235.0,1049.6 L236.0,1052.2 L237.0,1051.2 L238.0,1044.9 L239.0,1050.3 L240.0,1049.9 L241.0,1047.2 L242.0,1048.2 L243.0,1047.9 L244.0,1048.4 L245.0,1045.4 L246.0,1044.7 L247.0,1044.9 L248.0,1042.5 L249.0,1044.3 L250.0,1041.1 L251.0,1043.5 L252.0,1042.6 L253.0,1038.6 L254.0,1043.3 L255.0,1047.1 L256.0,1043.2 L257.0,1037.3 L258.0,1045.5 L259.0,1039.3 L260.0,1038.2 L261.0,1039.6 L262.0,1037.0 L263.0,1039.3 L264.0,1036.9 L265.0,1034.3 L266.0,1033.1 L267.0,1038.5 L268.0,1034.4 L269.0,1036.5 L270.0,1029.5 L271.0,1031.1 L272.0,1029.5 L273.0,1023.0 L274.0,1029.6 L275.0,1029.2 L276.0,1023.9 L277.0,1023.9 L278.0,1028.0 L279.0,1025.1 L280.0,1024.6 L281.0,1021.3 L282.0,1020.6 L283.0,1020.6 L284.0,1018.2 L285.0,1015.7 L286.0,1017.3 L287.0,1018.4 L288.0,1012.6 L289.0,1016.6 L290.0,1013.1 L291.0,1009.5 L292.0,1010.6 L293.0,1009.3 L294.0,1009.9 L295.0,1008.8 L296.0,1002.5 L297.0,1001.2 L298.0,1006.3 L299.0,1002.7 L300.0,1002.3 L301.0,1000.8 L302.0,1002.9 L303.0,994.2 L304.0,999.2 L305.0,992.7 L306.0,995.7 L307.0,996.1 L308.0,987.1 L309.0,990.8 L310.0,987.4 L311.0,985.9 L312.0,985.4 L313.0,980.7 L314.0,979.4 L315.0,982.7 L316.0,981.7 L317.0,975.9 L318.0,971.7 L319.0,981.5 L320.0,976.3 L321.0,972.5 L322.0,966.6 L323.0,966.4 L324.0,967.4 L325.0,974.8 L326.0,968.7 L327.0,962.6 L328.0,961.9 L329.0,955.9 L330.0,957.9 L331.0,953.9 L332.0,956.1 L333.0,953.0 L334.0,951.5 L335.0,952.1 L336.0,950.3 L337.0,953.1 L338.0,945.9 L339.0,941.5 L340.0,943.2 L341.0,947.1 L342.0,937.8 L343.0,938.1 L344.0,934.9 L345.0,935.7 L346.0,933.2 L347.0,930.5 L348.0,927.5 L349.0,929.7 L350.0,928.2 L351.0,925.4 L352.0,923.0 L353.0,914.6 L354.0,914.1 L355.0,916.7 L356.0,906.7 L357.0,908.7 L358.0,913.8 L359.0,903.2 L360.0,899.9 L361.0,896.0 L362.0,900.9 L363.0,894.0 L364.0,893.5 L365.0,892.2 L366.0,888.6 L367.0,895.4 L368.0,886.1 L369.0,888.2 L370.0,879.6 L371.0,881.3 L372.0,880.4 L373.0,869.2 L374.0,876.4 L375.0,872.2 L376.0,882.4 L377.0,874.3 L378.0,873.1 L379.0,870.9 L380.0,881.8 L381.0,876.9 L382.0,871.5 L383.0,871.0 L384.0,870.1 L385.0,865.5 L386.0,866.1 L387.0,864.8 L388.0,860.0 L389.0,859.5 L390.0,864.3 L391.0,862.8 L392.0,852.7 L393.0,860.8 L394.0,865.2 L395.0,856.6 L396.0,859.7 L397.0,851.9 L398.0,860.9 L399.0,851.9 L400.0,843.1 L401.0,853.8 L402.0,864.4 L403.0,850.9 L404.0,847.4 L405.0,853.9 L406.0,852.1 L407.0,857.5 L408.0,844.1 L409.0,841.9 L410.0,846.6 L411.0,848.8 L412.0,847.9 L413.0,850.3 L414.0,838.4 L415.0,840.6 L416.0,842.9 L417.0,846.5 L418.0,844.3 L419.0,839.8 L420.0,835.4 L421.0,844.4 L422.0,841.9 L423.0,851.4 L424.0,838.2 L425.0,845.5 L426.0,832.6 L427.0,835.0 L428.0,833.9 L429.0,834.4 L430.0,832.2 L431.0,833.3 L432.0,835.1 L433.0,833.1 L434.0,837.7 L435.0,834.2 L436.0,834.4 L437.0,840.7 L438.0,835.4 L439.0,834.6 L440.0,833.7 L441.0,833.2 L442.0,836.1 L443.0,830.0 L444.0,838.5 L445.0,840.3 L446.0,838.4 L447.0,831.0 L448.0,826.0 L449.0,830.9 L450.0,833.3 L451.0,836.1 L452.0,831.4 L453.0,830.6 L454.0,838.5 L455.0,828.6 L456.0,836.1 L457.0,835.2 L458.0,825.1 L459.0,832.1 L460.0,828.3 L461.0,826.5 L462.0,822.4 L463.0,823.7 L464.0,832.5 L465.0,829.0 L466.0,829.5 L467.0,826.3 L468.0,835.6 L469.0,830.3 L470.0,824.9 L471.0,824.6 L472.0,833.1 L473.0,833.2 L474.0,828.7 L475.0,832.7 L476.0,836.3 L477.0,832.1 L478.0,822.7 L479.0,836.7 L480.0,843.5 L481.0,834.6 L482.0,840.9 L483.0,844.6 L484.0,841.1 L485.0,834.7 L486.0,826.6 L487.0,838.4 L488.0,839.7 L489.0,840.5 L490.0,840.5 L491.0,847.3 L492.0,832.3 L493.0,833.8 L494.0,836.0 L495.0,838.2 L496.0,834.6 L497.0,840.2 L498.0,841.1 L499.0,838.9 L500.0,847.9 L501.0,847.5 L502.0,833.2 L503.0,835.9 L504.0,832.9 L505.0,833.7 L506.0,841.4 L507.0,834.7 L508.0,834.6 L509.0,838.0 L510.0,829.5 L511.0,837.6 L512.0,837.5 L513.0,843.0 L514.0,841.0 L515.0,842.9 L516.0,842.8 L517.0,834.1 L518.0,839.4 L519.0,835.6 L520.0,842.8 L521.0,841.8 L522.0,833.5 L523.0,844.0 L524.0,832.9 L525.0,843.2 L526.0,839.0 L527.0,850.4 L528.0,833.4 L529.0,837.1 L530.0,838.4 L531.0,835.6 L532.0,841.4 L533.0,833.0 L534.0,839.3 L535.0,839.6 L536.0,831.7 L537.0,841.6 L538.0,834.9 L539.0,829.8 L540.0,835.0 L541.0,840.2 L542.0,840.2 L543.0,839.4 L544.0,848.1 L545.0,848.1 L546.0,846.7 L547.0,847.7 L548.0,843.6 L549.0,839.7 L550.0,845.1 L551.0,855.9 L552.0,843.6 L553.0,841.6 L554.0,835.9 L555.0,845.9 L556.0,844.6 L557.0,837.4 L558.0,843.7 L559.0,846.6 L560.0,843.1 L561.0,847.2 L562.0,847.2 L563.0,837.7 L564.0,843.1 L565.0,846.7 L566.0,848.8 L567.0,854.6 L568.0,836.6 L569.0,844.7 L570.0,848.1 L571.0,850.2 L572.0,852.2 L573.0,840.6 L574.0,843.0 L575.0,851.6 L576.0,839.0 L577.0,834.8 L578.0,849.3 L579.0,848.1 L580.0,846.0 L581.0,834.3 L582.0,840.7 L583.0,846.9 L584.0,837.4 L585.0,842.5 L586.0,843.1 L587.0,847.5 L588.0,845.0 L589.0,830.7 L590.0,840.5 L591.0,844.1 L592.0,843.6 L593.0,847.5 L594.0,843.6 L595.0,853.1 L596.0,837.2 L597.0,850.0 L598.0,844.1 L599.0,849.9 L600.0,845.5 L601.0,849.0 L602.0,852.0 L603.0,843.2 L604.0,846.2 L605.0,845.3 L606.0,847.1 L607.0,839.3 L608.0,845.8 L609.0,845.7 L610.0,843.5 L611.0,846.2 L612.0,840.5 L613.0,847.8 L614.0,849.5 L615.0,855.9 L616.0,844.1 L617.0,843.0 L618.0,849.5 L619.0,841.2 L620.0,849.6 L621.0,845.7 L622.0,847.5 L623.0,850.1 L624.0,849.4 L625.0,862.4 L626.0,852.2 L627.0,844.1 L628.0,854.2 L629.0,844.4 L630.0,850.8 L631.0,848.2 L632.0,847.4 L633.0,857.0 L634.0,849.2 L635.0,849.0 L636.0,856.7 L637.0,850.8 L638.0,858.5 L639.0,847.4 L640.0,847.2 L641.0,855.1 L642.0,845.8 L643.0,851.2 L644.0,857.6 L645.0,852.8 L646.0,846.7 L647.0,849.7 L648.0,848.8 L649.0,850.2 L650.0,853.2 L651.0,857.9 L652.0,856.7 L653.0,850.0 L654.0,849.2 L655.0,855.3 L656.0,844.4 L657.0,850.3 L658.0,850.7 L659.0,847.2 L660.0,847.6 L661.0,853.2 L662.0,844.4 L663.0,847.4 L664.0,849.6 L665.0,851.2 L666.0,844.6 L667.0,855.0 L668.0,848.7 L669.0,848.6 L670.0,847.9 L671.0,846.4 L672.0,844.9 L673.0,854.0 L674.0,849.8 L675.0,848.3 L676.0,853.1 L677.0,845.6 L678.0,851.3 L679.0,848.7 L680.0,844.7 L681.0,851.8 L682.0,842.0 L683.0,851.3 L684.0,844.6 L685.0,850.2 L686.0,854.4 L687.0,850.8 L688.0,845.7 L689.0,848.1 L690.0,846.5 L691.0,842.9 L692.0,843.0 L693.0,847.8 L694.0,849.7 L695.0,839.6 L696.0,846.7 L697.0,849.1 L698.0,847.2 L699.0,837.3 L700.0,850.9 L701.0,841.0 L702.0,848.9 L703.0,852.9 L704.0,836.9 L705.0,846.7 L706.0,846.7 L707.0,846.1 L708.0,841.5 L709.0,843.2 L710.0,838.1 L711.0,843.5 L712.0,845.9 L713.0,840.4 L714.0,832.5 L715.0,836.7 L716.0,842.2 L717.0,842.2 L718.0,841.1 L719.0,841.5 L720.0,835.0 L721.0,828.4 L722.0,842.7 L723.0,852.5 L724.0,833.0 L725.0,847.4 L726.0,839.8 L727.0,842.2 L728.0,840.5 L729.0,842.9 L730.0,836.6 L731.0,838.3 L732.0,837.8 L733.0,833.7 L734.0,840.4 L735.0,837.4 L736.0,838.5 L737.0,831.9 L738.0,843.5 L739.0,827.9 L740.0,833.7 L741.0,819.8 L742.0,826.4 L743.0,833.6 L744.0,827.7 L745.0,830.0 L746.0,821.4 L747.0,835.0 L748.0,830.2 L749.0,826.9 L750.0,828.4 L751.0,827.5 L752.0,831.9 L753.0,826.0 L754.0,817.9 L755.0,822.9 L756.0,829.3 L757.0,825.6 L758.0,820.7 L759.0,824.9 L760.0,822.2 L761.0,824.0 L762.0,813.6 L763.0,816.3 L764.0,822.9 L765.0,818.4 L766.0,833.2 L767.0,827.2 L768.0,816.4 L769.0,818.3 L770.0,814.2 L771.0,813.3 L772.0,815.3 L773.0,808.5 L774.0,813.4 L775.0,820.3 L776.0,813.1 L777.0,818.3 L778.0,813.2 L779.0,812.9 L780.0,814.9 L781.0,797.8 L782.0,805.6 L783.0,816.4 L784.0,806.1 L785.0,811.2 L786.0,824.6 L787.0,810.2 L788.0,817.3 L789.0,807.8 L790.0,812.0 L791.0,809.0 L792.0,810.4 L793.0,804.1 L794.0,803.4 L795.0,808.7 L796.0,792.9 L797.0,802.3 L798.0,808.6 L799.0,802.3 L800.0,800.5 L801.0,798.9 L802.0,804.1 L803.0,801.2 L804.0,803.0 L805.0,800.8 L806.0,809.8 L807.0,798.5 L808.0,790.9 L809.0,800.1 L810.0,799.2 L811.0,799.5 L812.0,790.9 L813.0,803.5 L814.0,797.8 L815.0,797.5 L816.0,790.1 L817.0,799.5 L818.0,796.8 L819.0,803.2 L820.0,794.7 L821.0,790.7 L822.0,796.9 L823.0,791.8 L824.0,797.8 L825.0,790.5 L826.0,794.7 L827.0,793.9 L828.0,794.4 L829.0,791.7 L830.0,789.9 L831.0,793.0 L832.0,790.1 L833.0,793.1 L834.0,790.6 L835.0,792.2 L836.0,790.6 L837.0,797.0 L838.0,791.4 L839.0,792.3 L840.0,791.2 L841.0,786.4 L842.0,781.9 L843.0,791.7 L844.0,785.0 L845.0,790.0 L846.0,789.1 L847.0,788.8 L848.0,792.0 L849.0,788.0 L850.0,786.7 L851.0,788.0 L852.0,781.9 L853.0,783.3 L854.0,788.9 L855.0,784.5 L856.0,774.6 L857.0,800.8 L858.0,775.2 L859.0,795.0 L860.0,789.4 L861.0,789.1 L862.0,782.8 L863.0,780.6 L864.0,784.9 L865.0,786.1 L866.0,782.3 L867.0,786.8 L868.0,789.3 L869.0,789.0 L870.0,786.7 L871.0,785.0 L872.0,786.5 L873.0,783.6 L874.0,788.9 L875.0,794.7 L876.0,794.9 L877.0,788.7 L878.0,792.7 L879.0,792.2 L880.0,787.9 L881.0,789.1 L882.0,791.9 L883.0,787.8 L884.0,785.7 L885.0,784.6 L886.0,788.3 L887.0,785.4 L888.0,792.2 L889.0,787.1 L890.0,795.7 L891.0,794.7 L892.0,791.9 L893.0,794.5 L894.0,787.8 L895.0,796.2 L896.0,792.5 L897.0,790.1 L898.0,793.8 L899.0,788.4 L900.0,793.0 L901.0,793.8 L902.0,792.0 L903.0,795.0 L904.0,789.1 L905.0,796.8 L906.0,789.1 L907.0,797.9 L908.0,797.5 L909.0,798.9 L910.0,793.4 L911.0,810.2 L912.0,795.5 L913.0,797.7 L914.0,794.0 L915.0,804.5 L916.0,796.5 L917.0,803.8 L918.0,795.6 L919.0,801.8 L920.0,799.1 L921.0,805.3 L922.0,800.1 L923.0,797.9 L924.0,803.2 L925.0,797.1 L926.0,798.6 L927.0,806.9 L928.0,795.4 L929.0,807.8 L930.0,803.1 L931.0,796.6 L932.0,807.0 L933.0,809.2 L934.0,804.1 L935.0,806.3 L936.0,811.1 L937.0,811.2 L938.0,807.9 L939.0,804.9 L940.0,804.5 L941.0,806.4 L942.0,812.5 L943.0,812.4 L944.0,811.5 L945.0,816.8 L946.0,809.7 L947.0,809.8 L948.0,810.3 L949.0,821.0 L950.0,803.9 L951.0,814.8 L952.0,816.0 L953.0,814.7 L954.0,825.2 L955.0,820.5 L956.0,819.1 L957.0,812.2 L958.0,818.7 L959.0,815.3 L960.0,817.5 L961.0,818.6 L962.0,816.1 L963.0,821.4 L964.0,826.1 L965.0,823.9 L966.0,820.7 L967.0,811.7 L968.0,825.2 L969.0,825.5 L970.0,820.2 L971.0,819.2 L972.0,826.7 L973.0,818.5 L974.0,825.9 L975.0,818.3 L976.0,819.5 L977.0,824.2 L978.0,818.5 L979.0,825.5 L980.0,828.5 L981.0,821.3 L982.0,831.7 L983.0,826.0 L984.0,831.5 L985.0,830.4 L986.0,828.7 L987.0,829.2 L988.0,824.9 L989.0,829.9 L990.0,830.3 L991.0,841.3 L992.0,839.4 L993.0,830.0 L994.0,834.8 L995.0,838.1 L996.0,830.0 L997.0,840.2 L998.0,842.1 L999.0,836.9 L1000.0,838.6 L1001.0,840.9 L1002.0,836.6 L1003.0,841.9 L1004.0,841.2 L1005.0,851.6 L1006.0,838.9 L1007.0,844.2 L1008.0,843.2 L1009.0,845.2 L1010.0,840.7 L1011.0,847.8 L1012.0,845.8 L1013.0,848.0 L1014.0,850.8 L1015.0,842.7 L1016.0,846.4 L1017.0,845.0 L1018.0,844.4 L1019.0,856.8 L1020.0,859.4 L1021.0,842.5 L1022.0,852.1 L1023.0,848.6 L1024.0,856.1 L1025.0,853.8 L1026.0,851.8 L1027.0,853.5 L1028.0,854.9 L1029.0,853.8 L1030.0,853.1 L1031.0,853.7 L1032.0,856.6 L1033.0,850.2 L1034.0,855.1 L1035.0,854.9 L1036.0,853.8 L1037.0,859.1 L1038.0,851.3 L1039.0,846.3 L1040.0,853.9 L1041.0,860.0 L1042.0,856.4 L1043.0,859.0 L1044.0,860.7 L1045.0,853.5 L1046.0,873.4 L1047.0,858.1 L1048.0,859.4 L1049.0,862.0 L1050.0,866.3 L1051.0,866.7 L1052.0,871.4 L1053.0,865.7 L1054.0,863.6 L1055.0,864.1 L1056.0,869.1 L1057.0,873.3 L1058.0,868.8 L1059.0,865.7 L1060.0,869.6 L1061.0,872.7 L1062.0,869.9 L1063.0,867.5 L1064.0,861.2 L1065.0,869.7 L1066.0,876.5 L1067.0,873.8 L1068.0,865.0 L1069.0,874.4 L1070.0,863.5 L1071.0,882.9 L1072.0,876.4 L1073.0,871.4 L1074.0,879.6 L1075.0,873.9 L1076.0,879.5 L1077.0,877.8 L1078.0,873.5 L1079.0,881.0 L1080.0,873.5 L1081.0,884.1 L1082.0,879.4 L1083.0,875.4 L1084.0,872.6 L1085.0,885.9 L1086.0,885.5 L1087.0,875.3 L1088.0,885.2 L1089.0,881.3 L1090.0,880.1 L1091.0,880.9 L1092.0,880.5 L1093.0,887.3 L1094.0,882.7 L1095.0,875.4 L1096.0,890.6 L1097.0,886.3 L1098.0,881.9 L1099.0,882.0 L1100.0,880.1 L1101.0,883.9 L1102.0,885.4 L1103.0,885.1 L1104.0,882.1 L1105.0,877.1 L1106.0,888.0 L1107.0,884.7 L1108.0,893.8 L1109.0,882.5 L1110.0,888.8 L1111.0,886.2 L1112.0,883.4 L1113.0,891.6 L1114.0,887.1 L1115.0,883.5 L1116.0,885.9 L1117.0,891.1 L1118.0,882.8 L1119.0,899.7 L1120.0,878.6 L1121.0,886.9 L1122.0,889.3 L1123.0,894.8 L1124.0,890.6 L1125.0,889.2 L1126.0,895.6 L1127.0,894.4 L1128.0,885.4 L1129.0,888.3 L1130.0,878.0 L1131.0,887.9 L1132.0,884.1 L1133.0,893.4 L1134.0,890.6 L1135.0,891.0 L1136.0,896.3 L1137.0,889.3 L1138.0,891.7 L1139.0,893.5 L1140.0,898.7 L1141.0,893.1 L1142.0,897.0 L1143.0,894.7 L1144.0,900.3 L1145.0,893.3 L1146.0,898.5 L1147.0,892.2 L1148.0,897.8 L1149.0,896.3 L1150.0,904.7 L1151.0,903.1 L1152.0,902.9 L1153.0,908.5 L1154.0,900.5 L1155.0,905.5 L1156.0,900.9 L1157.0,898.6 L1158.0,904.3 L1159.0,903.5 L1160.0,902.8 L1161.0,904.4 L1162.0,899.8 L1163.0,911.5 L1164.0,902.2 L1165.0,904.1 L1166.0,908.7 L1167.0,900.9 L1168.0,910.2 L1169.0,910.4 L1170.0,905.9 L1171.0,900.5 L1172.0,905.4 L1173.0,900.4 L1174.0,912.3 L1175.0,907.5 L1176.0,904.8 L1177.0,904.3 L1178.0,901.4 L1179.0,913.4 L1180.0,897.7 L1181.0,906.4 L1182.0,902.4 L1183.0,911.5 L1184.0,909.9 L1185.0,917.8 L1186.0,909.5 L1187.0,908.8 L1188.0,908.1 L1189.0,914.1 L1190.0,905.5 L1191.0,914.4 L1192.0,913.0 L1193.0,912.9 L1194.0,909.5 L1195.0,920.5 L1196.0,920.0 L1197.0,905.5 L1198.0,915.7 L1199.0,920.3 L1200.0,912.1 L1201.0,913.6 L1202.0,907.6 L1203.0,914.5 L1204.0,915.0 L1205.0,914.1 L1206.0,913.2 L1207.0,907.2 L1208.0,910.1 L1209.0,913.3 L1210.0,919.4 L1211.0,915.7 L1212.0,914.8 L1213.0,909.5 L1214.0,920.6 L1215.0,916.3 L1216.0,917.1 L1217.0,922.1 L1218.0,921.4 L1219.0,917.6 L1220.0,921.7 L1221.0,921.1 L1222.0,925.6 L1223.0,918.9 L1224.0,925.3 L1225.0,926.8 L1226.0,919.2 L1227.0,926.7 L1228.0,926.4 L1229.0,918.8 L1230.0,930.5 L1231.0,922.3 L1232.0,920.7 L1233.0,922.9 L1234.0,926.9 L1235.0,926.3 L1236.0,924.0 L1237.0,929.2 L1238.0,925.9 L1239.0,929.4 L1240.0,934.4 L1241.0,925.2 L1242.0,915.5 L1243.0,923.0 L1244.0,925.4 L1245.0,925.0 L1246.0,925.1 L1247.0,920.6 L1248.0,921.0 L1249.0,924.3 L1250.0,924.7 L1251.0,916.4 L1252.0,929.2 L1253.0,926.1 L1254.0,926.2 L1255.0,927.5 L1256.0,923.1 L1257.0,926.8 L1258.0,930.9 L1259.0,931.4 L1260.0,929.5 L1261.0,927.2 L1262.0,925.6 L1263.0,933.4 L1264.0,930.9 L1265.0,927.9 L1266.0,922.1 L1267.0,926.9 L1268.0,923.5 L1269.0,934.8 L1270.0,931.4 L1271.0,928.4 L1272.0,936.7 L1273.0,940.5 L1274.0,935.9 L1275.0,927.2 L1276.0,931.6 L1277.0,928.0 L1278.0,926.5 L1279.0,933.4 L1280.0,942.5 L1281.0,938.8 L1282.0,934.0 L1283.0,933.0 L1284.0,935.4 L1285.0,938.7 L1286.0,930.4 L1287.0,929.3 L1288.0,942.7 L1289.0,937.4 L1290.0,942.4 L1291.0,937.9 L1292.0,942.5 L1293.0,935.6 L1294.0,939.8 L1295.0,943.8 L1296.0,942.4 L1297.0,937.7 L1298.0,942.7 L1299.0,937.6 L1300.0,935.2 L1301.0,942.1 L1302.0,945.2 L1303.0,943.4 L1304.0,936.3 L1305.0,943.8 L1306.0,943.3 L1307.0,939.5 L1308.0,932.7 L1309.0,945.0 L1310.0,944.7 L1311.0,943.6 L1312.0,936.2 L1313.0,937.3 L1314.0,946.1 L1315.0,945.6 L1316.0,944.8 L1317.0,942.5 L1318.0,945.0 L1319.0,942.1 L1320.0,954.6 L1321.0,941.6 L1322.0,945.8 L1323.0,942.6 L1324.0,948.8 L1325.0,948.3 L1326.0,943.5 L1327.0,952.8 L1328.0,943.0 L1329.0,948.6 L1330.0,942.3 L1331.0,951.8 L1332.0,940.1 L1333.0,947.8 L1334.0,951.9 L1335.0,952.8 L1336.0,943.2 L1337.0,945.9 L1338.0,948.0 L1339.0,947.0 L1340.0,938.6 L1341.0,946.8 L1342.0,953.5 L1343.0,951.6 L1344.0,945.2 L1345.0,947.1 L1346.0,949.3 L1347.0,951.6 L1348.0,955.1 L1349.0,951.7 L1350.0,955.8 L1351.0,948.0 L1352.0,943.8 L1353.0,953.2 L1354.0,956.3 L1355.0,954.0 L1356.0,952.2 L1357.0,957.3 L1358.0,962.5 L1359.0,956.0 L1360.0,954.2 L1361.0,953.9 L1362.0,963.3 L1363.0,956.8 L1364.0,959.0 L1365.0,961.1 L1366.0,960.7 L1367.0,954.1 L1368.0,960.3 L1369.0,959.9 L1370.0,958.7 L1371.0,960.4 L1372.0,955.1 L1373.0,956.7 L1374.0,955.1 L1375.0,959.2 L1376.0,954.4 L1377.0,957.8 L1378.0,960.4 L1379.0,955.9 L1380.0,955.1 L1381.0,955.9 L1382.0,956.8 L1383.0,955.8 L1384.0,955.8 L1385.0,949.8 L1386.0,960.4 L1387.0,954.9 L1388.0,956.3 L1389.0,947.4 L1390.0,960.8 L1391.0,954.8 L1392.0,959.7 L1393.0,962.3 L1394.0,964.1 L1395.0,963.0 L1396.0,961.6 L1397.0,956.1 L1398.0,965.9 L1399.0,964.6 L1400.0,963.9 L1401.0,964.2 L1402.0,962.2 L1403.0,960.7 L1404.0,966.2 L1405.0,967.2 L1406.0,960.1 L1407.0,966.8 L1408.0,965.0 L1409.0,967.5 L1410.0,965.9 L1411.0,968.9 L1412.0,969.0 L1413.0,968.8 L1414.0,961.9 L1415.0,969.1 L1416.0,966.9 L1417.0,963.3 L1418.0,969.3 L1419.0,962.8 L1420.0,970.0 L1421.0,972.6 L1422.0,965.7 L1423.0,970.3 L1424.0,968.8 L1425.0,969.5 L1426.0,963.2 L1427.0,969.4 L1428.0,967.9 L1429.0,969.8 L1430.0,967.5 L1431.0,970.9 L1432.0,968.3 L1433.0,969.6 L1434.0,971.8 L1435.0,968.2 L1436.0,970.8 L1437.0,968.4 L1438.0,969.4 L1439.0,966.3 L1440.0,970.5 L1441.0,977.5 L1442.0,968.2 L1443.0,963.9 L1444.0,970.2 L1445.0,965.7 L1446.0,970.4 L1447.0,973.7 L1448.0,968.3 L1449.0,964.5 L1450.0,970.9 L1451.0,964.6 L1452.0,976.6 L1453.0,970.8 L1454.0,971.2 L1455.0,969.5 L1456.0,972.4 L1457.0,970.1 L1458.0,969.3 L1459.0,972.1 L1460.0,970.0 L1461.0,976.6 L1462.0,969.2 L1463.0,972.7 L1464.0,970.9 L1465.0,969.0 L1466.0,978.4 L1467.0,967.2 L1468.0,974.5 L1469.0,969.7 L1470.0,974.5 L1471.0,981.3 L1472.0,968.3 L1473.0,970.8 L1474.0,979.1 L1475.0,975.9 L1476.0,969.1 L1477.0,981.5 L1478.0,973.0 L1479.0,976.4 L1480.0,980.6 L1481.0,972.2 L1482.0,976.8 L1483.0,980.1 L1484.0,982.6 L1485.0,975.0 L1486.0,977.8 L1487.0,975.3 L1488.0,975.2 L1489.0,976.0 L1490.0,975.5 L1491.0,972.4 L1492.0,971.7 L1493.0,975.6 L1494.0,978.3 L1495.0,981.7 L1496.0,976.7 L1497.0,978.0 L1498.0,980.6 L1499.0,981.0 L1500.0,978.7 L1501.0,979.0 L1502.0,984.9 L1503.0,978.6 L1504.0,979.9 L1505.0,975.0 L1506.0,981.2 L1507.0,979.3 L1508.0,985.8 L1509.0,979.2 L1510.0,982.6 L1511.0,983.0 L1512.0,985.2 L1513.0,978.4 L1514.0,984.9 L1515.0,980.4 L1516.0,980.1 L1517.0,979.4 L1518.0,979.2 L1519.0,979.3 L1520.0,973.5 L1521.0,981.9 L1522.0,980.5 L1523.0,977.6 L1524.0,980.2 L1525.0,987.2 L1526.0,981.6 L1527.0,979.4 L1528.0,985.7 L1529.0,978.5 L1530.0,980.5 L1531.0,979.5 L1532.0,980.6 L1533.0,985.2 L1534.0,983.3 L1535.0,979.6 L1536.0,981.5 L1537.0,982.2 L1538.0,980.9 L1539.0,984.2 L1540.0,980.1 L1541.0,980.2 L1542.0,982.5 L1543.0,979.4 L1544.0,983.7 L1545.0,982.0 L1546.0,979.9 L1547.0,980.9 L1548.0,975.5 L1549.0,982.4 L1550.0,983.2 L1551.0,982.4 L1552.0,980.6 L1553.0,987.4 L1554.0,986.1 L1555.0,984.0 L1556.0,986.6 L1557.0,985.0 L1558.0,983.6 L1559.0,984.8 L1560.0,993.4 L1561.0,987.7 L1562.0,986.4 L1563.0,983.9 L1564.0,986.8 L1565.0,991.6 L1566.0,986.4 L1567.0,988.2 L1568.0,988.8 L1569.0,987.1 L1570.0,989.8 L1571.0,986.0 L1572.0,986.8 L1573.0,983.7 L1574.0,993.1 L1575.0,986.5 L1576.0,983.8 L1577.0,989.7 L1578.0,984.4 L1579.0,985.9 L1580.0,983.8 L1581.0,986.2 L1582.0,985.2 L1583.0,988.0 L1584.0,986.3 L1585.0,980.8 L1586.0,986.2 L1587.0,986.8 L1588.0,985.9 L1589.0,990.1 L1590.0,989.4 L1591.0,988.0 L1592.0,984.3 L1593.0,989.1 L1594.0,984.1 L1595.0,988.2 L1596.0,987.8 L1597.0,978.9 L1598.0,996.3 L1599.0,985.6 L1600.0,993.3 L1601.0,986.7 L1602.0,986.8 L1603.0,990.0 L1604.0,988.5 L1605.0,990.2 L1606.0,983.7 L1607.0,984.0 L1608.0,995.6 L1609.0,986.7 L1610.0,986.0 L1611.0,987.3 L1612.0,989.7 L1613.0,983.7 L1614.0,987.9 L1615.0,987.2 L1616.0,989.3 L1617.0,988.1 L1618.0,986.3 L1619.0,985.5 L1620.0,986.1 L1621.0,991.0 L1622.0,984.3 L1623.0,987.5 L1624.0,993.4 L1625.0,987.8 L1626.0,990.8 L1627.0,988.7 L1628.0,991.4 L1629.0,989.6 L1630.0,988.1 L1631.0,993.2 L1632.0,988.7 L1633.0,985.8 L1634.0,988.5 L1635.0,990.9 L1636.0,986.3 L1637.0,991.5 L1638.0,991.4 L1639.0,995.1 L1640.0,987.5 L1641.0,991.0 L1642.0,984.5 L1643.0,988.0 L1644.0,989.4 L1645.0,990.2 L1646.0,988.9 L1647.0,988.7 L1648.0,987.3 L1649.0,987.7 L1650.0,989.8 L1651.0,990.5 L1652.0,990.7 L1653.0,991.7 L1654.0,992.3 L1655.0,984.0 L1656.0,987.6 L1657.0,988.6 L1658.0,987.4 L1659.0,992.1 L1660.0,991.3 L1661.0,989.0 L1662.0,989.7 L1663.0,992.9 L1664.0,988.6 L1665.0,994.2 L1666.0,992.2 L1667.0,991.1 L1668.0,993.8 L1669.0,998.5 L1670.0,992.1 L1671.0,991.0 L1672.0,987.7 L1673.0,990.3 L1674.0,983.2 L1675.0,991.7 L1676.0,998.7 L1677.0,991.0 L1678.0,990.3 L1679.0,994.0 L1680.0,991.0 L1681.0,993.9 L1682.0,997.3 L1683.0,993.4 L1684.0,994.1 L1685.0,993.0 L1686.0,992.4 L1687.0,992.6 L1688.0,992.1 L1689.0,994.9 L1690.0,987.7 L1691.0,991.4 L1692.0,993.9 L1693.0,989.9 L1694.0,991.9 L1695.0,990.3 L1696.0,993.4 L1697.0,994.5 L1698.0,987.6 L1699.0,993.5 L1700.0,990.2 L1701.0,983.5 L1702.0,993.6 L1703.0,995.9 L1704.0,987.0 L1705.0,993.0 L1706.0,987.0 L1707.0,993.9 L1708.0,993.1 L1709.0,993.2 L1710.0,994.3 L1711.0,992.9 L1712.0,990.2 L1713.0,992.9 L1714.0,995.2 L1715.0,991.7 L1716.0,992.1 L1717.0,988.8 L1718.0,995.3 L1719.0,990.8 L1720.0,992.4 L1721.0,991.1 L1722.0,990.1 L1723.0,991.8 L1724.0,996.1 L1725.0,994.8 L1726.0,996.6 L1727.0,986.8 L1728.0,990.6 L1729.0,994.4 L1730.0,997.7 L1731.0,999.4 L1732.0,989.5 L1733.0,991.8 L1734.0,994.7 L1735.0,992.6 L1736.0,990.9 L1737.0,994.6 L1738.0,991.5 L1739.0,987.6 L1740.0,993.6 L1741.0,994.0 L1742.0,995.4 L1743.0,996.2 L1744.0,994.1 L1745.0,992.9 L1746.0,992.4 L1747.0,989.1 L1748.0,992.3 L1749.0,996.2 L1750.0,995.3 L1751.0,999.0 L1752.0,993.1 L1753.0,988.8 L1754.0,995.9 L1755.0,996.5 L1756.0,990.7 L1757.0,989.6 L1758.0,995.7 L1759.0,996.0 L1760.0,991.3 L1761.0,993.5 L1762.0,992.4 L1763.0,991.4 L1764.0,994.7 L1765.0,995.1 L1766.0,993.9 L1767.0,993.1 L1768.0,988.0 L1769.0,999.7 L1770.0,992.5 L1771.0,994.7 L1772.0,987.6 L1773.0,996.1 L1774.0,991.0 L1775.0,995.3 L1776.0,994.5 L1777.0,997.4 L1778.0,992.0 L1779.0,993.1 L1780.0,994.2 L1781.0,1000.4 L1782.0,987.3 L1783.0,995.6 L1784.0,993.1 L1785.0,995.6 L1786.0,996.6 L1787.0,995.2 L1788.0,995.6 L1789.0,995.7 L1790.0,993.4 L1791.0,994.4 L1792.0,990.6 L1793.0,994.2 L1794.0,993.1 L1795.0,994.6 L1796.0,997.3 L1797.0,996.4 L1798.0,996.8 L1799.0,998.5 L1800.0,989.4 L1801.0,1004.1 L1802.0,995.9 L1803.0,995.8 L1804.0,992.6 L1805.0,997.6 L1806.0,999.3 L1807.0,999.1 L1808.0,996.0 L1809.0,998.2 L1809.3,998.9"/>
<path stroke="#ff0000" stroke-width="3.6" d="M132.0,815.9 L133.0,819.3 L134.0,815.9 L135.0,816.4 L136.0,818.4 L137.0,821.4 L138.0,822.8 L139.0,823.7 L140.0,826.3 L141.0,823.5 L142.0,830.0 L143.0,827.9 L144.0,830.7 L145.0,832.5 L146.0,832.5 L147.0,833.4 L148.0,835.2 L149.0,838.1 L150.0,841.7 L151.0,841.3 L152.0,839.8 L153.0,841.1 L154.0,841.9 L155.0,844.3 L156.0,842.1 L157.0,848.2 L158.0,846.4 L159.0,846.9 L160.0,849.5 L161.0,851.4 L162.0,851.2 L163.0,853.1 L164.0,852.5 L165.0,854.9 L166.0,855.6 L167.0,854.3 L168.0,857.1 L169.0,859.8 L170.0,857.0 L171.0,855.6 L172.0,857.0 L173.0,858.9 L174.0,856.7 L175.0,859.7 L176.0,859.8 L177.0,860.1 L178.0,857.4 L179.0,860.3 L180.0,861.4 L181.0,859.9 L182.0,861.1 L183.0,858.4 L184.0,862.1 L185.0,860.7 L186.0,862.5 L187.0,859.5 L188.0,862.5 L189.0,861.5 L190.0,862.7 L191.0,860.9 L192.0,861.3 L193.0,864.5 L194.0,861.3 L195.0,861.5 L196.0,862.0 L197.0,860.7 L198.0,863.5 L199.0,864.0 L200.0,861.6 L201.0,861.2 L202.0,863.4 L203.0,863.3 L204.0,862.9 L205.0,863.2 L206.0,860.8 L207.0,861.4 L208.0,859.9 L209.0,859.6 L210.0,862.2 L211.0,859.9 L212.0,863.2 L213.0,860.2 L214.0,859.0 L215.0,860.4 L216.0,861.3 L217.0,859.2 L218.0,856.5 L219.0,858.2 L220.0,859.0 L221.0,856.0 L222.0,855.1 L223.0,857.1 L224.0,855.3 L225.0,851.9 L226.0,853.5 L227.0,852.3 L228.0,853.2 L229.0,852.4 L230.0,853.3 L231.0,852.0 L232.0,847.9 L233.0,850.3 L234.0,852.1 L235.0,849.0 L236.0,849.2 L237.0,846.1 L238.0,842.1 L239.0,847.0 L240.0,843.1 L241.0,840.6 L242.0,845.5 L243.0,841.5 L244.0,841.5 L245.0,838.9 L246.0,838.3 L247.0,837.8 L248.0,838.4 L249.0,838.9 L250.0,833.5 L251.0,838.0 L252.0,833.8 L253.0,833.2 L254.0,836.9 L255.0,833.4 L256.0,829.9 L257.0,835.2 L258.0,829.4 L259.0,830.6 L260.0,829.7 L261.0,831.1 L262.0,826.8 L263.0,828.6 L264.0,824.5 L265.0,827.2 L266.0,822.7 L267.0,822.6 L268.0,826.1 L269.0,822.3 L270.0,821.0 L271.0,825.9 L272.0,819.9 L273.0,816.7 L274.0,819.0 L275.0,814.3 L276.0,818.0 L277.0,817.3 L278.0,812.8 L279.0,811.7 L280.0,812.4 L281.0,811.0 L282.0,808.0 L283.0,810.1 L284.0,803.6 L285.0,806.4 L286.0,804.8 L287.0,803.9 L288.0,804.0 L289.0,799.5 L290.0,802.2 L291.0,799.2 L292.0,796.9 L293.0,794.1 L294.0,796.2 L295.0,795.3 L296.0,791.0 L297.0,798.6 L298.0,793.0 L299.0,791.6 L300.0,791.4 L301.0,785.8 L302.0,782.6 L303.0,786.1 L304.0,783.0 L305.0,783.5 L306.0,779.4 L307.0,780.7 L308.0,778.4 L309.0,776.5 L310.0,774.5 L311.0,772.7 L312.0,770.8 L313.0,769.2 L314.0,769.5 L315.0,764.3 L316.0,768.3 L317.0,762.2 L318.0,763.4 L319.0,759.3 L320.0,757.4 L321.0,761.7 L322.0,754.4 L323.0,750.5 L324.0,750.6 L325.0,750.2 L326.0,755.1 L327.0,748.7 L328.0,749.1 L329.0,742.6 L330.0,744.6 L331.0,744.0 L332.0,745.4 L333.0,737.2 L334.0,739.1 L335.0,736.7 L336.0,731.5 L337.0,732.5 L338.0,730.1 L339.0,722.8 L340.0,729.0 L341.0,727.0 L342.0,722.6 L343.0,718.3 L344.0,724.3 L345.0,719.3 L346.0,719.7 L347.0,721.5 L348.0,712.1 L349.0,714.2 L350.0,709.7 L351.0,708.6 L352.0,708.9 L353.0,705.6 L354.0,707.2 L355.0,702.8 L356.0,700.4 L357.0,698.4 L358.0,698.6 L359.0,693.4 L360.0,692.8 L361.0,692.5 L362.0,689.3 L363.0,688.9 L364.0,685.7 L365.0,691.0 L366.0,687.9 L367.0,683.5 L368.0,680.3 L369.0,685.2 L370.0,677.8 L371.0,674.9 L372.0,674.3 L373.0,672.6 L374.0,674.3 L375.0,668.3 L376.0,673.2 L377.0,662.4 L378.0,665.6 L379.0,658.7 L380.0,665.8 L381.0,657.4 L382.0,656.6 L383.0,658.0 L384.0,657.3 L385.0,648.2 L386.0,649.0 L387.0,644.0 L388.0,647.2 L389.0,644.7 L390.0,642.3 L391.0,639.6 L392.0,638.9 L393.0,636.1 L394.0,638.7 L395.0,640.3 L396.0,627.7 L397.0,632.1 L398.0,621.3 L399.0,631.4 L400.0,625.4 L401.0,626.8 L402.0,622.6 L403.0,627.1 L404.0,624.0 L405.0,621.9 L406.0,622.5 L407.0,619.3 L408.0,613.7 L409.0,619.7 L410.0,617.5 L411.0,616.1 L412.0,617.5 L413.0,617.1 L414.0,608.2 L415.0,608.1 L416.0,614.8 L417.0,613.2 L418.0,606.1 L419.0,616.3 L420.0,603.0 L421.0,602.4 L422.0,597.7 L423.0,602.2 L424.0,596.8 L425.0,596.2 L426.0,602.6 L427.0,596.3 L428.0,597.7 L429.0,599.4 L430.0,598.9 L431.0,594.7 L432.0,595.4 L433.0,591.8 L434.0,604.3 L435.0,603.7 L436.0,600.7 L437.0,592.3 L438.0,594.1 L439.0,592.8 L440.0,596.9 L441.0,594.4 L442.0,587.6 L443.0,588.6 L444.0,584.0 L445.0,588.8 L446.0,587.0 L447.0,596.5 L448.0,587.1 L449.0,579.3 L450.0,583.9 L451.0,586.4 L452.0,581.5 L453.0,582.7 L454.0,584.3 L455.0,586.7 L456.0,584.8 L457.0,582.3 L458.0,588.0 L459.0,583.4 L460.0,583.6 L461.0,580.6 L462.0,582.7 L463.0,587.7 L464.0,591.0 L465.0,585.4 L466.0,588.2 L467.0,584.6 L468.0,586.8 L469.0,582.2 L470.0,590.8 L471.0,590.2 L472.0,587.3 L473.0,580.6 L474.0,583.3 L475.0,590.5 L476.0,593.3 L477.0,588.7 L478.0,592.3 L479.0,586.3 L480.0,588.1 L481.0,589.1 L482.0,590.9 L483.0,584.6 L484.0,593.4 L485.0,595.1 L486.0,586.9 L487.0,586.5 L488.0,592.7 L489.0,589.6 L490.0,584.1 L491.0,595.4 L492.0,593.6 L493.0,591.9 L494.0,604.2 L495.0,600.9 L496.0,592.3 L497.0,595.8 L498.0,592.3 L499.0,588.2 L500.0,598.2 L501.0,595.4 L502.0,596.3 L503.0,604.0 L504.0,601.7 L505.0,602.0 L506.0,601.6 L507.0,602.0 L508.0,605.8 L509.0,601.4 L510.0,608.4 L511.0,599.5 L512.0,602.5 L513.0,599.3 L514.0,603.4 L515.0,606.9 L516.0,610.7 L517.0,604.2 L518.0,608.7 L519.0,606.5 L520.0,605.8 L521.0,605.0 L522.0,609.8 L523.0,604.4 L524.0,611.2 L525.0,611.6 L526.0,609.8 L527.0,609.2 L528.0,608.4 L529.0,619.7 L530.0,609.4 L531.0,619.5 L532.0,616.7 L533.0,613.9 L534.0,611.7 L535.0,619.5 L536.0,622.3 L537.0,613.9 L538.0,616.6 L539.0,621.6 L540.0,619.8 L541.0,625.9 L542.0,618.0 L543.0,622.3 L544.0,617.0 L545.0,628.7 L546.0,620.1 L547.0,615.9 L548.0,623.4 L549.0,624.0 L550.0,631.4 L551.0,624.6 L552.0,626.2 L553.0,628.8 L554.0,632.5 L555.0,634.6 L556.0,631.8 L557.0,630.6 L558.0,625.7 L559.0,630.1 L560.0,634.4 L561.0,627.8 L562.0,635.3 L563.0,627.3 L564.0,636.1 L565.0,635.8 L566.0,632.9 L567.0,634.8 L568.0,633.4 L569.0,636.1 L570.0,637.4 L571.0,636.4 L572.0,639.1 L573.0,634.6 L574.0,637.6 L575.0,632.3 L576.0,640.2 L577.0,638.7 L578.0,637.3 L579.0,642.8 L580.0,632.3 L581.0,630.8 L582.0,635.3 L583.0,636.0 L584.0,649.9 L585.0,649.4 L586.0,640.2 L587.0,642.5 L588.0,633.0 L589.0,644.1 L590.0,645.4 L591.0,647.8 L592.0,640.9 L593.0,649.4 L594.0,641.8 L595.0,645.9 L596.0,647.9 L597.0,647.9 L598.0,642.9 L599.0,643.9 L600.0,648.5 L601.0,646.4 L602.0,650.5 L603.0,642.9 L604.0,648.7 L605.0,649.4 L606.0,649.5 L607.0,649.4 L608.0,652.9 L609.0,649.9 L610.0,651.3 L611.0,650.6 L612.0,654.7 L613.0,643.2 L614.0,654.6 L615.0,648.2 L616.0,649.0 L617.0,647.0 L618.0,644.4 L619.0,643.1 L620.0,654.3 L621.0,652.4 L622.0,646.3 L623.0,655.6 L624.0,652.1 L625.0,657.2 L626.0,649.2 L627.0,649.1 L628.0,648.1 L629.0,650.1 L630.0,651.9 L631.0,651.4 L632.0,642.6 L633.0,651.3 L634.0,649.4 L635.0,652.8 L636.0,658.2 L637.0,654.3 L638.0,651.4 L639.0,647.3 L640.0,648.0 L641.0,647.1 L642.0,654.7 L643.0,650.0 L644.0,656.0 L645.0,650.4 L646.0,652.5 L647.0,656.6 L648.0,649.9 L649.0,650.9 L650.0,649.3 L651.0,654.5 L652.0,648.4 L653.0,647.9 L654.0,647.0 L655.0,646.8 L656.0,652.6 L657.0,660.4 L658.0,647.7 L659.0,653.7 L660.0,650.5 L661.0,646.9 L662.0,649.4 L663.0,649.4 L664.0,647.8 L665.0,655.9 L666.0,643.6 L667.0,650.6 L668.0,650.3 L669.0,647.2 L670.0,649.3 L671.0,651.3 L672.0,648.8 L673.0,649.4 L674.0,650.0 L675.0,644.3 L676.0,651.9 L677.0,654.2 L678.0,649.7 L679.0,649.5 L680.0,641.5 L681.0,645.3 L682.0,642.8 L683.0,643.2 L684.0,647.9 L685.0,641.9 L686.0,643.7 L687.0,637.8 L688.0,643.1 L689.0,643.6 L690.0,640.7 L691.0,640.4 L692.0,648.5 L693.0,638.3 L694.0,638.5 L695.0,639.0 L696.0,645.1 L697.0,647.7 L698.0,641.7 L699.0,637.9 L700.0,638.5 L701.0,642.9 L702.0,636.2 L703.0,643.4 L704.0,642.9 L705.0,638.2 L706.0,639.6 L707.0,639.6 L708.0,641.7 L709.0,632.9 L710.0,639.7 L711.0,634.2 L712.0,632.5 L713.0,634.9 L714.0,633.5 L715.0,630.6 L716.0,628.2 L717.0,629.9 L718.0,637.3 L719.0,638.6 L720.0,634.0 L721.0,635.3 L722.0,629.4 L723.0,630.5 L724.0,631.3 L725.0,626.5 L726.0,626.4 L727.0,629.6 L728.0,627.8 L729.0,624.9 L730.0,629.2 L731.0,626.5 L732.0,630.1 L733.0,626.1 L734.0,624.5 L735.0,625.2 L736.0,623.4 L737.0,621.1 L738.0,621.2 L739.0,624.2 L740.0,623.0 L741.0,624.4 L742.0,609.3 L743.0,617.1 L744.0,616.2 L745.0,617.3 L746.0,614.4 L747.0,613.4 L748.0,616.9 L749.0,614.1 L750.0,608.8 L751.0,616.5 L752.0,614.7 L753.0,608.8 L754.0,612.9 L755.0,607.0 L756.0,616.8 L757.0,607.6 L758.0,597.6 L759.0,605.9 L760.0,604.0 L761.0,606.6 L762.0,606.0 L763.0,605.0 L764.0,602.5 L765.0,593.7 L766.0,603.7 L767.0,596.4 L768.0,603.2 L769.0,605.8 L770.0,602.4 L771.0,599.7 L772.0,600.5 L773.0,599.8 L774.0,598.0 L775.0,597.5 L776.0,595.9 L777.0,602.7 L778.0,598.2 L779.0,601.2 L780.0,596.6 L781.0,597.3 L782.0,596.0 L783.0,597.7 L784.0,600.1 L785.0,595.8 L786.0,592.1 L787.0,591.1 L788.0,598.9 L789.0,591.6 L790.0,590.9 L791.0,596.4 L792.0,594.4 L793.0,591.9 L794.0,588.6 L795.0,597.0 L796.0,589.6 L797.0,589.5 L798.0,586.5 L799.0,576.5 L800.0,578.2 L801.0,587.0 L802.0,586.5 L803.0,583.9 L804.0,581.5 L805.0,579.1 L806.0,582.7 L807.0,578.4 L808.0,586.4 L809.0,587.0 L810.0,592.5 L811.0,578.8 L812.0,580.1 L813.0,579.0 L814.0,571.2 L815.0,579.3 L816.0,580.5 L817.0,584.2 L818.0,582.6 L819.0,582.3 L820.0,580.6 L821.0,581.9 L822.0,584.3 L823.0,575.3 L824.0,577.2 L825.0,573.7 L826.0,584.0 L827.0,582.7 L828.0,580.6 L829.0,573.7 L830.0,578.4 L831.0,573.3 L832.0,578.0 L833.0,577.0 L834.0,580.6 L835.0,576.3 L836.0,580.8 L837.0,578.8 L838.0,577.1 L839.0,577.9 L840.0,576.9 L841.0,581.5 L842.0,577.9 L843.0,580.0 L844.0,577.8 L845.0,574.2 L846.0,582.7 L847.0,577.6 L848.0,582.2 L849.0,581.4 L850.0,574.3 L851.0,576.9 L852.0,578.6 L853.0,577.6 L854.0,576.5 L855.0,583.3 L856.0,580.1 L857.0,583.3 L858.0,579.6 L859.0,582.3 L860.0,578.8 L861.0,581.5 L862.0,583.8 L863.0,582.1 L864.0,585.9 L865.0,578.5 L866.0,583.1 L867.0,583.9 L868.0,593.5 L869.0,580.7 L870.0,585.6 L871.0,592.7 L872.0,583.4 L873.0,586.0 L874.0,586.6 L875.0,576.8 L876.0,586.6 L877.0,584.1 L878.0,591.8 L879.0,586.6 L880.0,585.2 L881.0,587.5 L882.0,589.3 L883.0,587.2 L884.0,589.4 L885.0,585.4 L886.0,592.1 L887.0,593.6 L888.0,598.2 L889.0,594.3 L890.0,593.2 L891.0,596.8 L892.0,596.7 L893.0,599.4 L894.0,597.9 L895.0,594.3 L896.0,596.1 L897.0,596.4 L898.0,594.0 L899.0,595.9 L900.0,595.0 L901.0,591.1 L902.0,596.5 L903.0,592.5 L904.0,600.3 L905.0,600.6 L906.0,595.5 L907.0,604.1 L908.0,605.3 L909.0,592.8 L910.0,609.2 L911.0,610.5 L912.0,600.7 L913.0,608.8 L914.0,607.4 L915.0,607.9 L916.0,610.2 L917.0,605.3 L918.0,606.3 L919.0,606.1 L920.0,607.0 L921.0,609.8 L922.0,606.0 L923.0,605.1 L924.0,614.1 L925.0,604.1 L926.0,623.6 L927.0,607.9 L928.0,612.2 L929.0,613.6 L930.0,616.1 L931.0,614.6 L932.0,620.1 L933.0,609.3 L934.0,618.0 L935.0,618.4 L936.0,621.1 L937.0,617.6 L938.0,629.5 L939.0,621.5 L940.0,620.9 L941.0,621.0 L942.0,623.1 L943.0,625.4 L944.0,625.5 L945.0,624.2 L946.0,626.4 L947.0,626.7 L948.0,628.6 L949.0,625.0 L950.0,615.8 L951.0,630.5 L952.0,627.1 L953.0,631.5 L954.0,627.2 L955.0,625.6 L956.0,636.0 L957.0,631.3 L958.0,625.1 L959.0,632.5 L960.0,629.9 L961.0,637.8 L962.0,628.6 L963.0,625.1 L964.0,633.1 L965.0,623.6 L966.0,632.5 L967.0,627.5 L968.0,636.4 L969.0,641.1 L970.0,630.1 L971.0,640.7 L972.0,635.8 L973.0,645.8 L974.0,640.3 L975.0,638.9 L976.0,643.6 L977.0,642.4 L978.0,639.4 L979.0,644.1 L980.0,640.8 L981.0,637.2 L982.0,650.0 L983.0,643.0 L984.0,642.7 L985.0,646.3 L986.0,640.7 L987.0,641.9 L988.0,645.1 L989.0,645.6 L990.0,647.9 L991.0,651.8 L992.0,647.2 L993.0,650.8 L994.0,651.7 L995.0,640.8 L996.0,651.6 L997.0,648.4 L998.0,655.3 L999.0,653.9 L1000.0,653.0 L1001.0,649.2 L1002.0,654.3 L1003.0,651.9 L1004.0,656.9 L1005.0,654.7 L1006.0,652.9 L1007.0,658.7 L1008.0,658.3 L1009.0,654.6 L1010.0,660.4 L1011.0,656.1 L1012.0,656.4 L1013.0,658.0 L1014.0,655.6 L1015.0,657.0 L1016.0,658.2 L1017.0,663.9 L1018.0,664.2 L1019.0,659.3 L1020.0,665.6 L1021.0,660.9 L1022.0,662.8 L1023.0,664.8 L1024.0,663.4 L1025.0,670.4 L1026.0,660.6 L1027.0,660.1 L1028.0,668.1 L1029.0,663.2 L1030.0,663.9 L1031.0,655.9 L1032.0,668.5 L1033.0,668.2 L1034.0,668.5 L1035.0,669.4 L1036.0,671.9 L1037.0,666.9 L1038.0,670.2 L1039.0,665.4 L1040.0,666.9 L1041.0,671.5 L1042.0,671.2 L1043.0,665.0 L1044.0,670.6 L1045.0,669.5 L1046.0,668.0 L1047.0,672.4 L1048.0,670.4 L1049.0,677.3 L1050.0,669.5 L1051.0,678.9 L1052.0,669.5 L1053.0,675.4 L1054.0,677.1 L1055.0,678.4 L1056.0,671.3 L1057.0,675.7 L1058.0,682.3 L1059.0,679.9 L1060.0,675.9 L1061.0,674.6 L1062.0,681.4 L1063.0,682.0 L1064.0,680.0 L1065.0,677.2 L1066.0,680.5 L1067.0,672.3 L1068.0,682.1 L1069.0,676.0 L1070.0,680.3 L1071.0,679.6 L1072.0,676.9 L1073.0,681.1 L1074.0,680.7 L1075.0,679.6 L1076.0,682.3 L1077.0,677.1 L1078.0,681.5 L1079.0,685.0 L1080.0,683.3 L1081.0,686.1 L1082.0,679.7 L1083.0,679.3 L1084.0,685.0 L1085.0,686.2 L1086.0,691.7 L1087.0,687.9 L1088.0,684.0 L1089.0,689.6 L1090.0,685.3 L1091.0,684.0 L1092.0,696.6 L1093.0,690.4 L1094.0,692.1 L1095.0,692.1 L1096.0,699.7 L1097.0,692.1 L1098.0,695.3 L1099.0,689.0 L1100.0,688.3 L1101.0,696.8 L1102.0,695.0 L1103.0,694.7 L1104.0,694.1 L1105.0,694.2 L1106.0,694.2 L1107.0,697.7 L1108.0,696.4 L1109.0,696.1 L1110.0,696.0 L1111.0,698.2 L1112.0,696.9 L1113.0,697.9 L1114.0,687.4 L1115.0,697.9 L1116.0,703.1 L1117.0,695.6 L1118.0,697.1 L1119.0,700.4 L1120.0,700.9 L1121.0,700.3 L1122.0,694.1 L1123.0,700.6 L1124.0,691.9 L1125.0,697.3 L1126.0,701.5 L1127.0,699.3 L1128.0,699.4 L1129.0,709.3 L1130.0,697.3 L1131.0,703.2 L1132.0,698.8 L1133.0,710.3 L1134.0,698.8 L1135.0,700.6 L1136.0,699.3 L1137.0,700.8 L1138.0,702.4 L1139.0,700.4 L1140.0,699.5 L1141.0,700.0 L1142.0,705.5 L1143.0,704.7 L1144.0,708.3 L1145.0,708.2 L1146.0,704.6 L1147.0,707.9 L1148.0,702.2 L1149.0,713.1 L1150.0,710.3 L1151.0,706.6 L1152.0,704.3 L1153.0,709.0 L1154.0,703.0 L1155.0,706.4 L1156.0,711.1 L1157.0,709.6 L1158.0,708.4 L1159.0,718.7 L1160.0,707.7 L1161.0,711.8 L1162.0,709.9 L1163.0,709.2 L1164.0,713.2 L1165.0,709.4 L1166.0,717.8 L1167.0,711.0 L1168.0,718.4 L1169.0,710.0 L1170.0,715.0 L1171.0,710.1 L1172.0,710.0 L1173.0,714.5 L1174.0,718.0 L1175.0,711.1 L1176.0,718.3 L1177.0,711.9 L1178.0,714.3 L1179.0,716.9 L1180.0,717.7 L1181.0,711.3 L1182.0,721.0 L1183.0,718.3 L1184.0,715.8 L1185.0,714.3 L1186.0,712.7 L1187.0,713.8 L1188.0,717.6 L1189.0,717.1 L1190.0,715.1 L1191.0,717.9 L1192.0,722.9 L1193.0,717.8 L1194.0,717.1 L1195.0,722.6 L1196.0,720.2 L1197.0,719.1 L1198.0,717.4 L1199.0,712.9 L1200.0,711.3 L1201.0,718.3 L1202.0,720.1 L1203.0,721.2 L1204.0,722.0 L1205.0,721.4 L1206.0,721.8 L1207.0,718.7 L1208.0,715.9 L1209.0,720.8 L1210.0,719.9 L1211.0,721.1 L1212.0,722.5 L1213.0,720.2 L1214.0,720.9 L1215.0,726.3 L1216.0,724.9 L1217.0,723.2 L1218.0,726.7 L1219.0,723.6 L1220.0,723.3 L1221.0,726.6 L1222.0,727.7 L1223.0,725.3 L1224.0,730.7 L1225.0,731.6 L1226.0,732.3 L1227.0,726.3 L1228.0,734.3 L1229.0,729.5 L1230.0,728.8 L1231.0,729.2 L1232.0,731.8 L1233.0,730.6 L1234.0,730.4 L1235.0,734.7 L1236.0,729.6 L1237.0,729.2 L1238.0,734.5 L1239.0,734.6 L1240.0,736.0 L1241.0,730.6 L1242.0,736.7 L1243.0,735.4 L1244.0,739.2 L1245.0,731.5 L1246.0,735.8 L1247.0,734.9 L1248.0,731.8 L1249.0,734.5 L1250.0,739.8 L1251.0,734.6 L1252.0,735.8 L1253.0,740.4 L1254.0,741.1 L1255.0,741.4 L1256.0,737.1 L1257.0,739.3 L1258.0,742.5 L1259.0,738.3 L1260.0,738.3 L1261.0,742.6 L1262.0,744.8 L1263.0,737.8 L1264.0,734.2 L1265.0,737.4 L1266.0,733.5 L1267.0,741.2 L1268.0,743.3 L1269.0,741.5 L1270.0,740.2 L1271.0,742.5 L1272.0,739.8 L1273.0,742.3 L1274.0,740.9 L1275.0,749.8 L1276.0,745.2 L1277.0,741.1 L1278.0,741.0 L1279.0,742.8 L1280.0,740.0 L1281.0,742.7 L1282.0,743.0 L1283.0,747.6 L1284.0,744.5 L1285.0,743.9 L1286.0,742.8 L1287.0,743.6 L1288.0,746.7 L1289.0,746.6 L1290.0,755.2 L1291.0,753.2 L1292.0,750.8 L1293.0,749.0 L1294.0,748.6 L1295.0,743.7 L1296.0,745.9 L1297.0,751.5 L1298.0,753.5 L1299.0,750.7 L1300.0,752.5 L1301.0,749.8 L1302.0,750.3 L1303.0,749.8 L1304.0,754.4 L1305.0,753.1 L1306.0,751.9 L1307.0,752.0 L1308.0,754.5 L1309.0,754.2 L1310.0,751.6 L1311.0,758.4 L1312.0,755.0 L1313.0,754.7 L1314.0,758.7 L1315.0,752.1 L1316.0,755.2 L1317.0,757.0 L1318.0,753.2 L1319.0,754.5 L1320.0,751.4 L1321.0,759.7 L1322.0,752.1 L1323.0,758.8 L1324.0,755.3 L1325.0,755.1 L1326.0,757.4 L1327.0,758.8 L1328.0,754.0 L1329.0,763.1 L1330.0,759.8 L1331.0,761.4 L1332.0,757.9 L1333.0,761.5 L1334.0,760.3 L1335.0,759.0 L1336.0,760.2 L1337.0,760.5 L1338.0,761.4 L1339.0,762.1 L1340.0,760.1 L1341.0,759.7 L1342.0,763.7 L1343.0,757.9 L1344.0,760.8 L1345.0,766.5 L1346.0,756.3 L1347.0,761.7 L1348.0,765.4 L1349.0,760.8 L1350.0,766.2 L1351.0,758.4 L1352.0,768.7 L1353.0,769.4 L1354.0,768.0 L1355.0,765.7 L1356.0,767.5 L1357.0,768.1 L1358.0,769.3 L1359.0,764.9 L1360.0,767.3 L1361.0,770.8 L1362.0,766.0 L1363.0,768.2 L1364.0,769.9 L1365.0,766.6 L1366.0,772.9 L1367.0,771.2 L1368.0,767.0 L1369.0,770.8 L1370.0,769.2 L1371.0,770.1 L1372.0,771.7 L1373.0,764.5 L1374.0,774.2 L1375.0,770.4 L1376.0,774.6 L1377.0,765.2 L1378.0,774.7 L1379.0,771.5 L1380.0,771.8 L1381.0,770.4 L1382.0,774.7 L1383.0,775.7 L1384.0,778.6 L1385.0,776.8 L1386.0,774.4 L1387.0,773.5 L1388.0,775.0 L1389.0,774.2 L1390.0,778.0 L1391.0,776.9 L1392.0,772.9 L1393.0,773.5 L1394.0,778.6 L1395.0,776.3 L1396.0,775.3 L1397.0,779.0 L1398.0,775.5 L1399.0,776.1 L1400.0,776.0 L1401.0,776.6 L1402.0,779.7 L1403.0,775.2 L1404.0,777.0 L1405.0,773.7 L1406.0,780.7 L1407.0,779.1 L1408.0,772.5 L1409.0,776.0 L1410.0,780.0 L1411.0,777.1 L1412.0,781.5 L1413.0,782.0 L1414.0,781.3 L1415.0,786.4 L1416.0,783.1 L1417.0,783.5 L1418.0,782.7 L1419.0,782.1 L1420.0,785.0 L1421.0,785.5 L1422.0,780.3 L1423.0,777.5 L1424.0,784.6 L1425.0,785.8 L1426.0,784.8 L1427.0,781.1 L1428.0,781.4 L1429.0,788.5 L1430.0,785.0 L1431.0,781.3 L1432.0,785.6 L1433.0,786.2 L1434.0,778.2 L1435.0,778.4 L1436.0,781.8 L1437.0,786.3 L1438.0,785.7 L1439.0,785.5 L1440.0,786.9 L1441.0,789.8 L1442.0,781.9 L1443.0,786.3 L1444.0,785.4 L1445.0,784.7 L1446.0,786.5 L1447.0,787.7 L1448.0,787.6 L1449.0,785.1 L1450.0,787.5 L1451.0,793.4 L1452.0,786.6 L1453.0,785.4 L1454.0,790.0 L1455.0,790.9 L1456.0,790.8 L1457.0,787.4 L1458.0,792.3 L1459.0,788.4 L1460.0,787.7 L1461.0,784.7 L1462.0,790.2 L1463.0,792.2 L1464.0,792.1 L1465.0,790.7 L1466.0,793.0 L1467.0,791.2 L1468.0,796.6 L1469.0,788.2 L1470.0,788.0 L1471.0,793.5 L1472.0,788.8 L1473.0,791.4 L1474.0,792.0 L1475.0,791.4 L1476.0,791.6 L1477.0,795.9 L1478.0,787.4 L1479.0,795.2 L1480.0,798.5 L1481.0,793.6 L1482.0,793.7 L1483.0,795.6 L1484.0,798.3 L1485.0,791.9 L1486.0,795.0 L1487.0,794.6 L1488.0,796.5 L1489.0,795.8 L1490.0,797.2 L1491.0,795.0 L1492.0,796.2 L1493.0,794.8 L1494.0,794.9 L1495.0,796.2 L1496.0,796.4 L1497.0,794.2 L1498.0,800.4 L1499.0,796.8 L1500.0,794.1 L1501.0,799.7 L1502.0,795.7 L1503.0,798.6 L1504.0,797.5 L1505.0,804.2 L1506.0,798.1 L1507.0,796.5 L1508.0,797.9 L1509.0,802.4 L1510.0,793.2 L1511.0,798.3 L1512.0,799.3 L1513.0,796.2 L1514.0,795.7 L1515.0,803.5 L1516.0,798.2 L1517.0,803.7 L1518.0,800.5 L1519.0,799.7 L1520.0,800.7 L1521.0,801.2 L1522.0,802.5 L1523.0,801.0 L1524.0,800.4 L1525.0,800.6 L1526.0,803.2 L1527.0,802.1 L1528.0,798.2 L1529.0,799.0 L1530.0,801.1 L1531.0,799.0 L1532.0,800.8 L1533.0,800.1 L1534.0,799.8 L1535.0,801.3 L1536.0,802.5 L1537.0,800.3 L1538.0,806.8 L1539.0,800.1 L1540.0,806.7 L1541.0,802.4 L1542.0,801.3 L1543.0,799.2 L1544.0,794.3 L1545.0,800.2 L1546.0,801.2 L1547.0,805.2 L1548.0,798.4 L1549.0,805.7 L1550.0,801.4 L1551.0,803.8 L1552.0,797.1 L1553.0,803.2 L1554.0,802.5 L1555.0,805.0 L1556.0,804.1 L1557.0,801.8 L1558.0,806.6 L1559.0,804.1 L1560.0,806.5 L1561.0,807.6 L1562.0,808.0 L1563.0,805.8 L1564.0,803.0 L1565.0,803.0 L1566.0,808.8 L1567.0,807.5 L1568.0,806.3 L1569.0,805.2 L1570.0,806.2 L1571.0,806.3 L1572.0,805.6 L1573.0,809.6 L1574.0,811.1 L1575.0,807.2 L1576.0,805.5 L1577.0,804.2 L1578.0,805.6 L1579.0,808.7 L1580.0,808.9 L1581.0,807.0 L1582.0,807.7 L1583.0,809.8 L1584.0,805.5 L1585.0,810.7 L1586.0,808.9 L1587.0,813.3 L1588.0,806.6 L1589.0,808.0 L1590.0,810.1 L1591.0,807.7 L1592.0,805.2 L1593.0,806.1 L1594.0,808.3 L1595.0,808.8 L1596.0,807.9 L1597.0,810.2 L1598.0,810.3 L1599.0,808.9 L1600.0,808.4 L1601.0,807.9 L1602.0,809.6 L1603.0,807.1 L1604.0,808.7 L1605.0,809.6 L1606.0,808.0 L1607.0,805.8 L1608.0,806.7 L1609.0,810.5 L1610.0,809.9 L1611.0,812.5 L1612.0,809.5 L1613.0,811.3 L1614.0,812.4 L1615.0,811.8 L1616.0,813.0 L1617.0,809.6 L1618.0,810.4 L1619.0,808.2 L1620.0,811.3 L1621.0,816.6 L1622.0,809.5 L1623.0,814.7 L1624.0,810.2 L1625.0,810.5 L1626.0,810.6 L1627.0,809.8 L1628.0,812.3 L1629.0,811.5 L1630.0,815.8 L1631.0,812.8 L1632.0,812.7 L1633.0,811.2 L1634.0,808.7 L1635.0,811.5 L1636.0,809.9 L1637.0,813.6 L1638.0,811.6 L1639.0,815.1 L1640.0,813.2 L1641.0,813.4 L1642.0,812.2 L1643.0,812.1 L1644.0,813.1 L1645.0,813.6 L1646.0,810.3 L1647.0,812.8 L1648.0,817.2 L1649.0,811.7 L1650.0,811.5 L1651.0,810.6 L1652.0,809.2 L1653.0,814.7 L1654.0,812.5 L1655.0,813.1 L1656.0,816.4 L1657.0,817.8 L1658.0,811.0 L1659.0,815.1 L1660.0,814.4 L1661.0,814.1 L1662.0,814.4 L1663.0,811.9 L1664.0,810.2 L1665.0,815.1 L1666.0,814.7 L1667.0,816.6 L1668.0,816.1 L1669.0,815.3 L1670.0,815.1 L1671.0,818.1 L1672.0,815.6 L1673.0,813.6 L1674.0,813.0 L1675.0,814.1 L1676.0,814.3 L1677.0,815.1 L1678.0,818.5 L1679.0,810.7 L1680.0,814.9 L1681.0,816.2 L1682.0,815.2 L1683.0,812.9 L1684.0,817.3 L1685.0,813.3 L1686.0,812.2 L1687.0,812.5 L1688.0,814.6 L1689.0,816.5 L1690.0,816.9 L1691.0,814.9 L1692.0,812.0 L1693.0,813.1 L1694.0,812.5 L1695.0,813.0 L1696.0,808.2 L1697.0,814.5 L1698.0,815.6 L1699.0,813.9 L1700.0,815.2 L1701.0,812.3 L1702.0,811.3 L1703.0,812.9 L1704.0,816.6 L1705.0,816.3 L1706.0,813.3 L1707.0,816.7 L1708.0,813.7 L1709.0,817.4 L1710.0,815.4 L1711.0,815.5 L1712.0,816.1 L1713.0,813.0 L1714.0,812.7 L1715.0,811.7 L1716.0,815.3 L1717.0,814.7 L1718.0,814.7 L1719.0,814.1 L1720.0,818.0 L1721.0,814.3 L1722.0,813.8 L1723.0,821.3 L1724.0,818.2 L1725.0,816.1 L1726.0,812.0 L1727.0,814.4 L1728.0,816.9 L1729.0,815.8 L1730.0,818.9 L1731.0,813.1 L1732.0,817.2 L1733.0,814.6 L1734.0,818.6 L1735.0,815.8 L1736.0,818.1 L1737.0,814.7 L1738.0,813.2 L1739.0,813.8 L1740.0,814.9 L1741.0,814.1 L1742.0,818.5 L1743.0,818.8 L1744.0,816.7 L1745.0,814.0 L1746.0,815.9 L1747.0,814.8 L1748.0,819.1 L1749.0,816.8 L1750.0,819.1 L1751.0,815.3 L1752.0,812.1 L1753.0,814.6 L1754.0,813.9 L1755.0,811.2 L1756.0,816.3 L1757.0,814.5 L1758.0,815.4 L1759.0,819.3 L1760.0,814.2 L1761.0,814.3 L1762.0,815.7 L1763.0,814.7 L1764.0,815.3 L1765.0,817.2 L1766.0,819.7 L1767.0,812.6 L1768.0,816.2 L1769.0,816.3 L1770.0,816.1 L1771.0,815.9 L1772.0,815.6 L1773.0,818.4 L1774.0,815.5 L1775.0,816.2 L1776.0,816.5 L1777.0,816.8 L1778.0,816.3 L1779.0,818.7 L1780.0,816.7 L1781.0,816.7 L1782.0,816.8 L1783.0,815.0 L1784.0,815.4 L1785.0,818.3 L1786.0,817.6 L1787.0,815.9 L1788.0,815.3 L1789.0,817.9 L1790.0,818.6 L1791.0,814.1 L1792.0,821.0 L1793.0,817.8 L1794.0,817.6 L1795.0,817.7 L1796.0,818.0 L1797.0,816.7 L1798.0,822.3 L1799.0,815.8 L1800.0,817.7 L1801.0,819.6 L1802.0,815.8 L1803.0,817.7 L1804.0,818.6 L1805.0,822.6 L1806.0,816.0 L1807.0,817.7 L1808.0,819.1 L1809.0,813.0 L1809.3,815.3"/>
<path stroke="#000000" stroke-width="2.9" d="M132.0,505.0 L133.0,505.1 L134.0,504.9 L135.0,504.6 L136.0,504.8 L137.0,504.5 L138.0,505.0 L139.0,505.6 L140.0,504.6 L141.0,504.4 L142.0,504.9 L143.0,504.8 L144.0,504.5 L145.0,503.9 L146.0,504.2 L147.0,504.4 L148.0,503.2 L149.0,503.4 L150.0,502.4 L151.0,502.4 L152.0,501.7 L153.0,501.9 L154.0,500.4 L155.0,500.1 L156.0,498.8 L157.0,496.8 L158.0,493.5 L159.0,493.0 L160.0,492.2 L161.0,491.8 L162.0,491.1 L163.0,492.0 L164.0,492.4 L165.0,493.6 L166.0,496.9 L167.0,498.2 L168.0,500.6 L169.0,502.7 L170.0,502.6 L171.0,503.0 L172.0,503.3 L173.0,503.3 L174.0,502.7 L175.0,503.2 L176.0,503.6 L177.0,501.9 L178.0,502.9 L179.0,502.6 L180.0,502.6 L181.0,504.5 L182.0,504.5 L183.0,503.9 L184.0,504.6 L185.0,504.9 L186.0,504.5 L187.0,504.9 L188.0,504.6 L189.0,504.9 L190.0,505.3 L191.0,504.3 L192.0,504.7 L193.0,504.4 L194.0,504.7 L195.0,504.0 L196.0,504.3 L197.0,504.5 L198.0,505.0 L199.0,505.1 L200.0,503.8 L201.0,504.0 L202.0,504.7 L203.0,503.3 L204.0,504.0 L205.0,504.1 L206.0,504.7 L207.0,504.4 L208.0,503.7 L209.0,503.6 L210.0,503.5 L211.0,504.2 L212.0,503.0 L213.0,502.8 L214.0,502.8 L215.0,502.2 L216.0,501.8 L217.0,501.0 L218.0,501.3 L219.0,500.9 L220.0,501.8 L221.0,501.7 L222.0,501.6 L223.0,502.1 L224.0,501.9 L225.0,502.8 L226.0,502.4 L227.0,502.7 L228.0,501.8 L229.0,502.5 L230.0,501.3 L231.0,501.0 L232.0,501.7 L233.0,501.2 L234.0,501.4 L235.0,502.1 L236.0,500.1 L237.0,499.7 L238.0,499.8 L239.0,499.8 L240.0,499.2 L241.0,498.7 L242.0,498.0 L243.0,496.3 L244.0,493.6 L245.0,491.9 L246.0,489.4 L247.0,485.7 L248.0,482.1 L249.0,476.1 L250.0,470.7 L251.0,461.2 L252.0,453.8 L253.0,451.1 L254.0,451.2 L255.0,453.4 L256.0,458.5 L257.0,465.3 L258.0,468.6 L259.0,473.3 L260.0,473.5 L261.0,476.2 L262.0,478.9 L263.0,484.9 L264.0,489.2 L265.0,492.9 L266.0,497.4 L267.0,499.7 L268.0,500.6 L269.0,501.2 L270.0,501.7 L271.0,501.7 L272.0,502.9 L273.0,502.2 L274.0,502.4 L275.0,501.9 L276.0,501.7 L277.0,501.1 L278.0,502.1 L279.0,501.1 L280.0,501.4 L281.0,500.6 L282.0,499.9 L283.0,499.6 L284.0,499.1 L285.0,498.9 L286.0,498.0 L287.0,497.4 L288.0,497.2 L289.0,498.8 L290.0,501.1 L291.0,500.1 L292.0,500.0 L293.0,500.7 L294.0,501.3 L295.0,500.0 L296.0,500.6 L297.0,500.4 L298.0,499.8 L299.0,501.0 L300.0,500.4 L301.0,500.2 L302.0,499.5 L303.0,499.8 L304.0,499.0 L305.0,498.9 L306.0,498.1 L307.0,497.8 L308.0,498.9 L309.0,497.8 L310.0,498.0 L311.0,497.6 L312.0,497.1 L313.0,496.7 L314.0,496.6 L315.0,495.3 L316.0,494.3 L317.0,493.2 L318.0,492.4 L319.0,490.3 L320.0,488.0 L321.0,485.1 L322.0,481.8 L323.0,479.2 L324.0,474.7 L325.0,468.9 L326.0,462.1 L327.0,455.4 L328.0,450.6 L329.0,448.6 L330.0,449.0 L331.0,452.1 L332.0,456.5 L333.0,465.9 L334.0,473.9 L335.0,482.2 L336.0,488.9 L337.0,493.7 L338.0,495.2 L339.0,496.8 L340.0,498.8 L341.0,498.4 L342.0,499.1 L343.0,499.6 L344.0,498.3 L345.0,498.0 L346.0,499.0 L347.0,498.8 L348.0,498.5 L349.0,498.6 L350.0,498.2 L351.0,498.2 L352.0,499.1 L353.0,498.7 L354.0,498.1 L355.0,498.6 L356.0,497.7 L357.0,497.2 L358.0,495.8 L359.0,495.2 L360.0,494.2 L361.0,493.2 L362.0,492.8 L363.0,491.2 L364.0,490.4 L365.0,489.1 L366.0,489.0 L367.0,487.0 L368.0,487.9 L369.0,487.3 L370.0,487.2 L371.0,486.4 L372.0,486.7 L373.0,487.1 L374.0,486.3 L375.0,485.9 L376.0,485.1 L377.0,485.2 L378.0,484.2 L379.0,482.9 L380.0,483.9 L381.0,484.6 L382.0,485.5 L383.0,488.1 L384.0,490.3 L385.0,490.8 L386.0,490.5 L387.0,490.6 L388.0,491.6 L389.0,491.1 L390.0,490.8 L391.0,490.1 L392.0,489.1 L393.0,488.5 L394.0,487.4 L395.0,486.4 L396.0,485.0 L397.0,485.0 L398.0,483.6 L399.0,483.7 L400.0,481.6 L401.0,481.3 L402.0,480.4 L403.0,478.8 L404.0,479.3 L405.0,478.0 L406.0,475.7 L407.0,474.9 L408.0,472.7 L409.0,468.1 L410.0,464.0 L411.0,457.2 L412.0,450.7 L413.0,443.1 L414.0,436.0 L415.0,428.0 L416.0,420.0 L417.0,410.2 L418.0,399.9 L419.0,388.4 L420.0,375.3 L421.0,365.3 L422.0,359.7 L423.0,363.9 L424.0,367.8 L425.0,374.1 L426.0,379.4 L427.0,376.9 L428.0,370.0 L429.0,361.0 L430.0,349.7 L431.0,343.1 L432.0,340.7 L433.0,343.3 L434.0,350.8 L435.0,367.3 L436.0,394.0 L437.0,425.8 L438.0,446.4 L439.0,461.8 L440.0,471.9 L441.0,476.2 L442.0,478.4 L443.0,479.6 L444.0,479.4 L445.0,479.6 L446.0,479.5 L447.0,479.5 L448.0,478.5 L449.0,478.6 L450.0,476.9 L451.0,476.0 L452.0,472.9 L453.0,470.0 L454.0,464.1 L455.0,453.2 L456.0,445.4 L457.0,442.4 L458.0,441.5 L459.0,440.5 L460.0,440.2 L461.0,436.7 L462.0,431.9 L463.0,433.8 L464.0,438.1 L465.0,447.0 L466.0,453.1 L467.0,459.4 L468.0,466.3 L469.0,470.6 L470.0,476.8 L471.0,481.7 L472.0,484.3 L473.0,486.9 L474.0,489.6 L475.0,489.9 L476.0,490.8 L477.0,491.0 L478.0,491.6 L479.0,492.1 L480.0,491.5 L481.0,490.0 L482.0,489.4 L483.0,488.9 L484.0,488.1 L485.0,486.3 L486.0,484.9 L487.0,483.4 L488.0,481.6 L489.0,480.3 L490.0,478.9 L491.0,477.1 L492.0,475.7 L493.0,475.9 L494.0,476.5 L495.0,477.8 L496.0,477.6 L497.0,479.0 L498.0,478.3 L499.0,481.0 L500.0,484.9 L501.0,485.7 L502.0,485.8 L503.0,485.3 L504.0,485.0 L505.0,483.1 L506.0,481.9 L507.0,481.3 L508.0,478.9 L509.0,477.0 L510.0,475.2 L511.0,473.7 L512.0,471.1 L513.0,467.8 L514.0,465.3 L515.0,460.8 L516.0,458.3 L517.0,456.2 L518.0,454.7 L519.0,453.2 L520.0,453.8 L521.0,453.8 L522.0,453.9 L523.0,453.9 L524.0,453.4 L525.0,453.4 L526.0,455.6 L527.0,459.6 L528.0,464.1 L529.0,468.7 L530.0,471.1 L531.0,474.1 L532.0,476.5 L533.0,476.8 L534.0,476.1 L535.0,476.0 L536.0,472.6 L537.0,469.8 L538.0,469.0 L539.0,469.2 L540.0,468.2 L541.0,466.0 L542.0,466.0 L543.0,462.4 L544.0,458.7 L545.0,453.5 L546.0,448.3 L547.0,441.1 L548.0,432.8 L549.0,419.2 L550.0,406.4 L551.0,390.9 L552.0,378.5 L553.0,364.8 L554.0,348.5 L555.0,329.0 L556.0,310.6 L557.0,296.5 L558.0,287.9 L559.0,282.4 L560.0,281.5 L561.0,287.4 L562.0,301.1 L563.0,328.9 L564.0,362.2 L565.0,399.5 L566.0,433.5 L567.0,458.7 L568.0,473.3 L569.0,481.8 L570.0,484.8 L571.0,487.8 L572.0,487.5 L573.0,487.1 L574.0,487.8 L575.0,486.8 L576.0,487.5 L577.0,486.0 L578.0,486.3 L579.0,485.6 L580.0,484.9 L581.0,485.2 L582.0,484.3 L583.0,484.2 L584.0,483.6 L585.0,483.0 L586.0,483.8 L587.0,484.2 L588.0,485.0 L589.0,484.2 L590.0,484.5 L591.0,483.5 L592.0,484.5 L593.0,483.4 L594.0,482.7 L595.0,483.0 L596.0,482.7 L597.0,480.3 L598.0,479.5 L599.0,478.9 L600.0,478.1 L601.0,478.2 L602.0,477.1 L603.0,476.6 L604.0,476.6 L605.0,475.3 L606.0,475.4 L607.0,474.5 L608.0,474.9 L609.0,475.7 L610.0,478.4 L611.0,477.1 L612.0,476.3 L613.0,474.7 L614.0,471.8 L615.0,468.1 L616.0,466.6 L617.0,463.2 L618.0,462.4 L619.0,464.4 L620.0,466.9 L621.0,471.0 L622.0,474.4 L623.0,476.1 L624.0,478.1 L625.0,480.0 L626.0,481.0 L627.0,478.7 L628.0,480.2 L629.0,479.2 L630.0,480.1 L631.0,479.0 L632.0,479.2 L633.0,478.4 L634.0,478.1 L635.0,478.2 L636.0,476.7 L637.0,474.9 L638.0,473.7 L639.0,472.3 L640.0,472.0 L641.0,470.6 L642.0,468.0 L643.0,465.0 L644.0,460.9 L645.0,457.4 L646.0,453.6 L647.0,451.1 L648.0,448.0 L649.0,441.9 L650.0,433.1 L651.0,427.8 L652.0,426.9 L653.0,426.6 L654.0,426.7 L655.0,425.7 L656.0,425.9 L657.0,424.8 L658.0,424.2 L659.0,423.1 L660.0,422.6 L661.0,423.9 L662.0,426.7 L663.0,430.8 L664.0,438.1 L665.0,443.5 L666.0,447.4 L667.0,449.0 L668.0,447.0 L669.0,445.4 L670.0,443.2 L671.0,439.2 L672.0,436.1 L673.0,429.8 L674.0,421.6 L675.0,413.6 L676.0,405.6 L677.0,396.1 L678.0,384.5 L679.0,372.1 L680.0,360.8 L681.0,350.7 L682.0,347.3 L683.0,346.3 L684.0,349.9 L685.0,358.5 L686.0,376.2 L687.0,391.1 L688.0,405.7 L689.0,412.9 L690.0,417.6 L691.0,419.3 L692.0,419.7 L693.0,419.0 L694.0,416.0 L695.0,414.8 L696.0,414.5 L697.0,413.9 L698.0,418.8 L699.0,425.1 L700.0,435.1 L701.0,445.1 L702.0,452.4 L703.0,459.9 L704.0,462.3 L705.0,463.1 L706.0,466.7 L707.0,468.7 L708.0,471.9 L709.0,475.6 L710.0,480.7 L711.0,483.6 L712.0,486.4 L713.0,489.2 L714.0,490.6 L715.0,490.8 L716.0,491.7 L717.0,491.9 L718.0,492.7 L719.0,493.4 L720.0,493.4 L721.0,493.1 L722.0,493.5 L723.0,492.4 L724.0,492.7 L725.0,493.0 L726.0,492.9 L727.0,493.1 L728.0,492.8 L729.0,492.4 L730.0,492.7 L731.0,492.1 L732.0,491.7 L733.0,492.9 L734.0,492.5 L735.0,492.7 L736.0,492.2 L737.0,493.6 L738.0,494.0 L739.0,493.7 L740.0,492.6 L741.0,493.0 L742.0,493.1 L743.0,492.4 L744.0,491.8 L745.0,492.0 L746.0,492.4 L747.0,490.6 L748.0,491.8 L749.0,492.1 L750.0,492.2 L751.0,492.6 L752.0,492.3 L753.0,491.7 L754.0,491.4 L755.0,491.3 L756.0,490.3 L757.0,490.2 L758.0,490.5 L759.0,491.0 L760.0,489.9 L761.0,490.0 L762.0,490.2 L763.0,490.8 L764.0,490.2 L765.0,491.0 L766.0,489.8 L767.0,490.3 L768.0,490.4 L769.0,491.0 L770.0,491.3 L771.0,490.1 L772.0,490.6 L773.0,491.4 L774.0,491.0 L775.0,490.7 L776.0,492.1 L777.0,491.9 L778.0,491.9 L779.0,491.5 L780.0,492.2 L781.0,491.5 L782.0,492.1 L783.0,491.0 L784.0,491.0 L785.0,491.5 L786.0,490.9 L787.0,491.5 L788.0,491.2 L789.0,490.6 L790.0,491.0 L791.0,490.7 L792.0,491.2 L793.0,490.4 L794.0,490.4 L795.0,491.1 L796.0,491.5 L797.0,491.3 L798.0,490.2 L799.0,490.1 L800.0,490.7 L801.0,489.7 L802.0,489.0 L803.0,489.3 L804.0,489.3 L805.0,488.4 L806.0,487.8 L807.0,487.7 L808.0,488.6 L809.0,487.8 L810.0,488.0 L811.0,488.1 L812.0,488.2 L813.0,487.7 L814.0,488.0 L815.0,487.2 L816.0,487.3 L817.0,486.8 L818.0,487.2 L819.0,485.8 L820.0,484.4 L821.0,483.7 L822.0,482.8 L823.0,482.3 L824.0,480.4 L825.0,480.5 L826.0,481.3 L827.0,483.6 L828.0,483.7 L829.0,483.9 L830.0,485.0 L831.0,486.3 L832.0,485.8 L833.0,486.3 L834.0,487.4 L835.0,487.3 L836.0,487.7 L837.0,487.3 L838.0,488.8 L839.0,488.8 L840.0,488.4 L841.0,488.6 L842.0,487.2 L843.0,488.6 L844.0,488.1 L845.0,488.3 L846.0,488.4 L847.0,487.8 L848.0,487.0 L849.0,488.0 L850.0,487.6 L851.0,488.1 L852.0,488.4 L853.0,488.9 L854.0,488.4 L855.0,490.5 L856.0,490.3 L857.0,491.0 L858.0,491.7 L859.0,491.0 L860.0,490.3 L861.0,491.0 L862.0,491.0 L863.0,491.4 L864.0,491.7 L865.0,490.7 L866.0,491.9 L867.0,490.9 L868.0,491.9 L869.0,491.6 L870.0,491.5 L871.0,491.7 L872.0,491.4 L873.0,491.2 L874.0,490.3 L875.0,490.7 L876.0,491.1 L877.0,490.7 L878.0,489.9 L879.0,489.2 L880.0,488.3 L881.0,489.1 L882.0,488.1 L883.0,487.9 L884.0,487.6 L885.0,487.5 L886.0,487.0 L887.0,486.9 L888.0,486.0 L889.0,485.8 L890.0,486.4 L891.0,484.4 L892.0,483.7 L893.0,483.6 L894.0,483.5 L895.0,482.6 L896.0,483.1 L897.0,483.8 L898.0,483.5 L899.0,483.5 L900.0,484.3 L901.0,483.2 L902.0,483.5 L903.0,483.0 L904.0,483.8 L905.0,481.9 L906.0,482.3 L907.0,482.2 L908.0,482.8 L909.0,482.9 L910.0,483.4 L911.0,482.3 L912.0,484.0 L913.0,484.2 L914.0,484.8 L915.0,486.1 L916.0,486.0 L917.0,485.8 L918.0,487.0 L919.0,486.8 L920.0,487.5 L921.0,488.3 L922.0,488.4 L923.0,489.1 L924.0,488.1 L925.0,487.2 L926.0,487.3 L927.0,486.8 L928.0,486.2 L929.0,486.6 L930.0,485.6 L931.0,484.4 L932.0,485.1 L933.0,484.1 L934.0,483.7 L935.0,482.9 L936.0,482.5 L937.0,481.6 L938.0,481.5 L939.0,480.4 L940.0,479.7 L941.0,479.0 L942.0,477.4 L943.0,477.4 L944.0,476.6 L945.0,476.0 L946.0,474.5 L947.0,475.4 L948.0,474.3 L949.0,473.6 L950.0,473.5 L951.0,474.6 L952.0,475.2 L953.0,475.5 L954.0,476.4 L955.0,476.6 L956.0,477.6 L957.0,477.4 L958.0,478.3 L959.0,479.3 L960.0,480.5 L961.0,479.0 L962.0,479.5 L963.0,479.3 L964.0,479.9 L965.0,478.5 L966.0,478.3 L967.0,477.8 L968.0,476.6 L969.0,475.9 L970.0,475.4 L971.0,473.7 L972.0,473.1 L973.0,472.6 L974.0,471.8 L975.0,470.4 L976.0,468.3 L977.0,467.5 L978.0,466.7 L979.0,465.1 L980.0,463.4 L981.0,461.6 L982.0,460.8 L983.0,458.5 L984.0,455.9 L985.0,453.1 L986.0,451.4 L987.0,449.1 L988.0,448.8 L989.0,447.4 L990.0,447.3 L991.0,444.3 L992.0,441.3 L993.0,440.0 L994.0,437.2 L995.0,434.8 L996.0,432.8 L997.0,430.0 L998.0,426.8 L999.0,421.7 L1000.0,415.8 L1001.0,410.0 L1002.0,404.9 L1003.0,401.0 L1004.0,399.2 L1005.0,398.8 L1006.0,399.7 L1007.0,403.4 L1008.0,413.9 L1009.0,420.3 L1010.0,423.4 L1011.0,424.0 L1012.0,424.5 L1013.0,425.6 L1014.0,422.7 L1015.0,418.8 L1016.0,414.9 L1017.0,410.5 L1018.0,406.3 L1019.0,405.6 L1020.0,404.7 L1021.0,404.6 L1022.0,405.5 L1023.0,409.3 L1024.0,415.7 L1025.0,425.1 L1026.0,433.8 L1027.0,444.9 L1028.0,454.1 L1029.0,460.0 L1030.0,465.4 L1031.0,468.4 L1032.0,472.2 L1033.0,473.8 L1034.0,472.9 L1035.0,470.4 L1036.0,469.4 L1037.0,467.6 L1038.0,466.1 L1039.0,466.0 L1040.0,464.2 L1041.0,464.9 L1042.0,463.6 L1043.0,463.0 L1044.0,460.6 L1045.0,458.3 L1046.0,456.6 L1047.0,454.2 L1048.0,451.4 L1049.0,449.7 L1050.0,447.8 L1051.0,445.8 L1052.0,445.7 L1053.0,443.1 L1054.0,439.1 L1055.0,435.2 L1056.0,432.7 L1057.0,429.8 L1058.0,427.7 L1059.0,425.7 L1060.0,423.2 L1061.0,419.3 L1062.0,420.2 L1063.0,419.9 L1064.0,420.6 L1065.0,424.9 L1066.0,427.4 L1067.0,428.0 L1068.0,429.4 L1069.0,431.4 L1070.0,433.7 L1071.0,435.4 L1072.0,438.4 L1073.0,441.8 L1074.0,443.8 L1075.0,444.9 L1076.0,444.4 L1077.0,443.7 L1078.0,443.1 L1079.0,441.7 L1080.0,439.3 L1081.0,436.6 L1082.0,434.1 L1083.0,432.2 L1084.0,429.0 L1085.0,426.6 L1086.0,423.9 L1087.0,421.0 L1088.0,419.7 L1089.0,416.2 L1090.0,415.1 L1091.0,412.4 L1092.0,411.2 L1093.0,408.8 L1094.0,404.5 L1095.0,402.3 L1096.0,400.3 L1097.0,397.8 L1098.0,395.0 L1099.0,391.9 L1100.0,390.3 L1101.0,390.6 L1102.0,391.9 L1103.0,394.0 L1104.0,392.6 L1105.0,393.6 L1106.0,392.1 L1107.0,392.1 L1108.0,388.6 L1109.0,384.6 L1110.0,381.6 L1111.0,377.1 L1112.0,376.3 L1113.0,377.9 L1114.0,381.0 L1115.0,382.6 L1116.0,383.9 L1117.0,384.9 L1118.0,388.5 L1119.0,391.2 L1120.0,394.4 L1121.0,397.6 L1122.0,398.6 L1123.0,397.9 L1124.0,397.9 L1125.0,398.0 L1126.0,396.5 L1127.0,393.0 L1128.0,391.4 L1129.0,388.1 L1130.0,385.7 L1131.0,381.6 L1132.0,377.9 L1133.0,373.4 L1134.0,368.3 L1135.0,364.5 L1136.0,358.1 L1137.0,352.0 L1138.0,345.4 L1139.0,340.3 L1140.0,338.1 L1141.0,340.2 L1142.0,343.3 L1143.0,346.8 L1144.0,351.5 L1145.0,358.6 L1146.0,370.4 L1147.0,381.0 L1148.0,392.6 L1149.0,400.5 L1150.0,406.2 L1151.0,410.4 L1152.0,413.7 L1153.0,415.0 L1154.0,416.5 L1155.0,418.3 L1156.0,419.6 L1157.0,421.9 L1158.0,424.4 L1159.0,424.2 L1160.0,425.9 L1161.0,425.5 L1162.0,426.6 L1163.0,423.6 L1164.0,419.6 L1165.0,417.8 L1166.0,417.8 L1167.0,416.5 L1168.0,415.7 L1169.0,413.0 L1170.0,410.6 L1171.0,407.3 L1172.0,405.9 L1173.0,403.9 L1174.0,403.2 L1175.0,399.7 L1176.0,398.9 L1177.0,397.8 L1178.0,395.4 L1179.0,393.3 L1180.0,391.6 L1181.0,388.8 L1182.0,387.2 L1183.0,388.2 L1184.0,389.2 L1185.0,389.3 L1186.0,388.6 L1187.0,387.0 L1188.0,387.3 L1189.0,388.7 L1190.0,391.3 L1191.0,392.5 L1192.0,392.4 L1193.0,391.6 L1194.0,391.0 L1195.0,390.4 L1196.0,390.3 L1197.0,388.7 L1198.0,388.3 L1199.0,384.7 L1200.0,382.9 L1201.0,382.4 L1202.0,381.3 L1203.0,379.2 L1204.0,377.2 L1205.0,370.1 L1206.0,362.3 L1207.0,359.3 L1208.0,357.7 L1209.0,353.7 L1210.0,348.3 L1211.0,337.7 L1212.0,330.5 L1213.0,323.2 L1214.0,315.6 L1215.0,308.9 L1216.0,302.1 L1217.0,292.4 L1218.0,281.4 L1219.0,269.2 L1220.0,260.4 L1221.0,249.6 L1222.0,238.5 L1223.0,228.5 L1224.0,218.9 L1225.0,212.8 L1226.0,209.2 L1227.0,206.9 L1228.0,209.3 L1229.0,217.5 L1230.0,229.4 L1231.0,244.7 L1232.0,265.1 L1233.0,280.7 L1234.0,290.3 L1235.0,298.2 L1236.0,303.3 L1237.0,306.0 L1238.0,308.3 L1239.0,310.5 L1240.0,313.4 L1241.0,315.2 L1242.0,318.4 L1243.0,324.2 L1244.0,333.9 L1245.0,344.2 L1246.0,357.2 L1247.0,370.0 L1248.0,381.8 L1249.0,393.6 L1250.0,405.1 L1251.0,414.0 L1252.0,421.4 L1253.0,426.9 L1254.0,430.1 L1255.0,430.9 L1256.0,433.1 L1257.0,432.9 L1258.0,432.9 L1259.0,433.3 L1260.0,433.7 L1261.0,434.9 L1262.0,435.7 L1263.0,438.0 L1264.0,438.6 L1265.0,440.0 L1266.0,442.6 L1267.0,442.6 L1268.0,443.5 L1269.0,443.9 L1270.0,443.6 L1271.0,442.5 L1272.0,443.1 L1273.0,445.2 L1274.0,445.5 L1275.0,446.5 L1276.0,448.0 L1277.0,449.8 L1278.0,450.4 L1279.0,450.8 L1280.0,451.3 L1281.0,451.0 L1282.0,449.0 L1283.0,447.0 L1284.0,445.8 L1285.0,443.1 L1286.0,440.9 L1287.0,438.6 L1288.0,438.4 L1289.0,437.2 L1290.0,438.3 L1291.0,436.8 L1292.0,433.9 L1293.0,430.9 L1294.0,427.9 L1295.0,425.8 L1296.0,423.5 L1297.0,421.6 L1298.0,419.8 L1299.0,417.2 L1300.0,414.7 L1301.0,413.3 L1302.0,412.1 L1303.0,411.8 L1304.0,412.6 L1305.0,415.4 L1306.0,417.7 L1307.0,422.1 L1308.0,427.5 L1309.0,428.9 L1310.0,432.8 L1311.0,435.2 L1312.0,436.2 L1313.0,436.9 L1314.0,437.9 L1315.0,438.2 L1316.0,438.4 L1317.0,437.7 L1318.0,439.1 L1319.0,440.1 L1320.0,442.2 L1321.0,445.3 L1322.0,449.2 L1323.0,452.9 L1324.0,456.1 L1325.0,460.2 L1326.0,462.6 L1327.0,464.4 L1328.0,465.9 L1329.0,466.1 L1330.0,466.9 L1331.0,468.1 L1332.0,467.7 L1333.0,469.0 L1334.0,469.3 L1335.0,469.9 L1336.0,469.8 L1337.0,470.7 L1338.0,471.6 L1339.0,472.4 L1340.0,472.8 L1341.0,472.7 L1342.0,472.9 L1343.0,472.8 L1344.0,473.4 L1345.0,473.0 L1346.0,473.2 L1347.0,473.5 L1348.0,472.4 L1349.0,471.6 L1350.0,472.1 L1351.0,472.4 L1352.0,473.2 L1353.0,475.1 L1354.0,475.0 L1355.0,474.2 L1356.0,475.1 L1357.0,475.1 L1358.0,474.0 L1359.0,473.6 L1360.0,473.7 L1361.0,474.1 L1362.0,474.4 L1363.0,474.9 L1364.0,475.2 L1365.0,475.5 L1366.0,475.9 L1367.0,475.9 L1368.0,475.2 L1369.0,476.4 L1370.0,477.0 L1371.0,476.8 L1372.0,477.5 L1373.0,476.9 L1374.0,476.6 L1375.0,477.7 L1376.0,477.2 L1377.0,476.9 L1378.0,477.1 L1379.0,477.1 L1380.0,476.6 L1381.0,475.0 L1382.0,475.7 L1383.0,475.6 L1384.0,475.0 L1385.0,475.3 L1386.0,475.4 L1387.0,474.0 L1388.0,473.1 L1389.0,474.2 L1390.0,472.5 L1391.0,471.9 L1392.0,472.5 L1393.0,472.4 L1394.0,471.7 L1395.0,472.2 L1396.0,471.2 L1397.0,470.5 L1398.0,470.6 L1399.0,470.4 L1400.0,469.3 L1401.0,469.8 L1402.0,469.9 L1403.0,472.1 L1404.0,471.2 L1405.0,473.1 L1406.0,473.2 L1407.0,474.0 L1408.0,475.2 L1409.0,475.8 L1410.0,476.4 L1411.0,476.3 L1412.0,476.2 L1413.0,476.6 L1414.0,477.5 L1415.0,477.9 L1416.0,478.8 L1417.0,478.7 L1418.0,479.2 L1419.0,479.6 L1420.0,478.8 L1421.0,477.6 L1422.0,477.3 L1423.0,476.7 L1424.0,477.6 L1425.0,475.8 L1426.0,475.8 L1427.0,474.4 L1428.0,474.2 L1429.0,473.8 L1430.0,474.0 L1431.0,475.1 L1432.0,476.2 L1433.0,476.9 L1434.0,477.2 L1435.0,478.1 L1436.0,479.5 L1437.0,478.3 L1438.0,479.7 L1439.0,479.6 L1440.0,480.6 L1441.0,481.3 L1442.0,481.1 L1443.0,481.7 L1444.0,480.6 L1445.0,481.8 L1446.0,480.7 L1447.0,480.9 L1448.0,480.4 L1449.0,478.6 L1450.0,479.3 L1451.0,479.6 L1452.0,480.2 L1453.0,479.4 L1454.0,479.3 L1455.0,478.4 L1456.0,479.7 L1457.0,479.8 L1458.0,478.8 L1459.0,478.5 L1460.0,477.6 L1461.0,478.7 L1462.0,479.5 L1463.0,478.3 L1464.0,478.4 L1465.0,477.8 L1466.0,476.9 L1467.0,477.9 L1468.0,476.4 L1469.0,476.8 L1470.0,476.8 L1471.0,476.9 L1472.0,476.4 L1473.0,476.1 L1474.0,475.0 L1475.0,474.0 L1476.0,473.8 L1477.0,472.4 L1478.0,471.1 L1479.0,469.8 L1480.0,468.9 L1481.0,466.9 L1482.0,465.9 L1483.0,464.5 L1484.0,464.1 L1485.0,463.0 L1486.0,462.5 L1487.0,459.4 L1488.0,458.4 L1489.0,458.0 L1490.0,456.5 L1491.0,455.6 L1492.0,456.0 L1493.0,454.5 L1494.0,454.0 L1495.0,454.4 L1496.0,456.3 L1497.0,457.4 L1498.0,457.8 L1499.0,459.8 L1500.0,462.4 L1501.0,463.7 L1502.0,463.4 L1503.0,463.9 L1504.0,463.7 L1505.0,462.3 L1506.0,463.0 L1507.0,463.7 L1508.0,464.1 L1509.0,464.2 L1510.0,465.7 L1511.0,466.3 L1512.0,466.6 L1513.0,464.5 L1514.0,466.7 L1515.0,464.7 L1516.0,465.8 L1517.0,466.1 L1518.0,466.4 L1519.0,466.3 L1520.0,465.8 L1521.0,466.6 L1522.0,465.8 L1523.0,464.7 L1524.0,467.3 L1525.0,466.5 L1526.0,467.9 L1527.0,467.8 L1528.0,470.3 L1529.0,471.4 L1530.0,472.5 L1531.0,472.8 L1532.0,473.2 L1533.0,474.6 L1534.0,474.3 L1535.0,475.1 L1536.0,476.6 L1537.0,476.5 L1538.0,477.2 L1539.0,477.5 L1540.0,478.5 L1541.0,478.2 L1542.0,477.5 L1543.0,478.1 L1544.0,477.1 L1545.0,477.3 L1546.0,478.0 L1547.0,476.9 L1548.0,477.4 L1549.0,476.9 L1550.0,477.9 L1551.0,479.0 L1552.0,478.1 L1553.0,479.0 L1554.0,478.8 L1555.0,478.9 L1556.0,479.0 L1557.0,480.4 L1558.0,480.8 L1559.0,479.8 L1560.0,479.1 L1561.0,479.7 L1562.0,479.1 L1563.0,479.6 L1564.0,479.4 L1565.0,479.5 L1566.0,479.8 L1567.0,479.4 L1568.0,479.7 L1569.0,479.2 L1570.0,480.0 L1571.0,479.6 L1572.0,480.2 L1573.0,479.7 L1574.0,480.1 L1575.0,480.1 L1576.0,478.8 L1577.0,478.8 L1578.0,478.4 L1579.0,478.9 L1580.0,479.1 L1581.0,478.3 L1582.0,477.2 L1583.0,477.5 L1584.0,475.4 L1585.0,476.3 L1586.0,474.7 L1587.0,473.3 L1588.0,475.8 L1589.0,475.1 L1590.0,473.6 L1591.0,474.1 L1592.0,473.8 L1593.0,473.9 L1594.0,473.2 L1595.0,474.0 L1596.0,475.0 L1597.0,475.4 L1598.0,476.3 L1599.0,476.0 L1600.0,477.2 L1601.0,475.4 L1602.0,475.5 L1603.0,473.9 L1604.0,473.8 L1605.0,474.7 L1606.0,473.4 L1607.0,474.0 L1608.0,473.7 L1609.0,473.1 L1610.0,473.4 L1611.0,473.3 L1612.0,473.2 L1613.0,473.8 L1614.0,473.6 L1615.0,472.9 L1616.0,472.6 L1617.0,473.1 L1618.0,472.8 L1619.0,473.3 L1620.0,474.0 L1621.0,473.1 L1622.0,472.6 L1623.0,472.5 L1624.0,472.0 L1625.0,471.9 L1626.0,471.7 L1627.0,471.8 L1628.0,471.4 L1629.0,471.6 L1630.0,470.7 L1631.0,470.6 L1632.0,470.1 L1633.0,471.9 L1634.0,472.1 L1635.0,473.6 L1636.0,473.9 L1637.0,474.6 L1638.0,473.7 L1639.0,473.9 L1640.0,474.5 L1641.0,472.1 L1642.0,473.0 L1643.0,473.1 L1644.0,472.4 L1645.0,472.5 L1646.0,472.7 L1647.0,471.6 L1648.0,472.1 L1649.0,471.3 L1650.0,470.6 L1651.0,469.3 L1652.0,468.2 L1653.0,467.5 L1654.0,467.6 L1655.0,466.7 L1656.0,468.4 L1657.0,468.0 L1658.0,467.8 L1659.0,467.3 L1660.0,467.7 L1661.0,467.9 L1662.0,467.7 L1663.0,466.5 L1664.0,467.5 L1665.0,468.5 L1666.0,465.9 L1667.0,467.3 L1668.0,467.0 L1669.0,466.7 L1670.0,467.3 L1671.0,465.9 L1672.0,466.4 L1673.0,465.4 L1674.0,462.0 L1675.0,460.3 L1676.0,460.5 L1677.0,460.2 L1678.0,461.3 L1679.0,459.6 L1680.0,459.3 L1681.0,457.3 L1682.0,458.7 L1683.0,459.3 L1684.0,459.2 L1685.0,461.7 L1686.0,462.2 L1687.0,463.6 L1688.0,465.8 L1689.0,465.6 L1690.0,467.3 L1691.0,470.5 L1692.0,471.2 L1693.0,472.0 L1694.0,471.3 L1695.0,470.5 L1696.0,470.7 L1697.0,471.1 L1698.0,470.6 L1699.0,469.4 L1700.0,468.6 L1701.0,468.0 L1702.0,467.6 L1703.0,468.8 L1704.0,467.7 L1705.0,467.1 L1706.0,467.3 L1707.0,467.7 L1708.0,467.3 L1709.0,466.3 L1710.0,465.2 L1711.0,464.1 L1712.0,461.9 L1713.0,462.0 L1714.0,463.5 L1715.0,463.2 L1716.0,463.9 L1717.0,464.2 L1718.0,463.3 L1719.0,462.3 L1720.0,462.8 L1721.0,461.8 L1722.0,461.0 L1723.0,461.4 L1724.0,461.1 L1725.0,460.3 L1726.0,460.5 L1727.0,459.7 L1728.0,457.8 L1729.0,457.6 L1730.0,456.3 L1731.0,454.8 L1732.0,452.4 L1733.0,451.2 L1734.0,449.7 L1735.0,448.8 L1736.0,447.5 L1737.0,447.6 L1738.0,444.0 L1739.0,440.6 L1740.0,440.1 L1741.0,438.6 L1742.0,438.6 L1743.0,439.8 L1744.0,439.6 L1745.0,440.5 L1746.0,443.0 L1747.0,448.1 L1748.0,449.0 L1749.0,451.4 L1750.0,452.6 L1751.0,453.8 L1752.0,455.4 L1753.0,456.8 L1754.0,458.5 L1755.0,458.4 L1756.0,457.9 L1757.0,456.5 L1758.0,455.6 L1759.0,456.0 L1760.0,456.7 L1761.0,455.9 L1762.0,454.7 L1763.0,452.3 L1764.0,449.9 L1765.0,449.5 L1766.0,449.1 L1767.0,447.5 L1768.0,446.9 L1769.0,446.3 L1770.0,444.0 L1771.0,442.8 L1772.0,440.5 L1773.0,438.9 L1774.0,437.3 L1775.0,436.8 L1776.0,433.7 L1777.0,432.1 L1778.0,430.3 L1779.0,429.0 L1780.0,428.9 L1781.0,428.7 L1782.0,429.6 L1783.0,428.7 L1784.0,429.3 L1785.0,428.4 L1786.0,427.6 L1787.0,425.5 L1788.0,425.5 L1789.0,424.8 L1790.0,424.3 L1791.0,423.8 L1792.0,430.6 L1793.0,432.6 L1794.0,434.3 L1795.0,435.7 L1796.0,437.0 L1797.0,438.8 L1798.0,439.4 L1799.0,440.9 L1800.0,442.3 L1801.0,442.9 L1802.0,443.1 L1803.0,443.4 L1804.0,443.3 L1805.0,443.6 L1806.0,444.1 L1807.0,442.6 L1808.0,443.4 L1809.0,442.3"/>
</g>
<g font-size="58" text-anchor="middle">
<text transform="translate(132.4,1473.8) scale(1,1.02)">5</text>
<text transform="translate(372.0,1473.8) scale(1,1.02)">10</text>
<text transform="translate(611.7,1473.8) scale(1,1.02)">15</text>
<text transform="translate(851.3,1473.8) scale(1,1.02)">20</text>
<text transform="translate(1091.0,1473.8) scale(1,1.02)">25</text>
<text transform="translate(1330.6,1473.8) scale(1,1.02)">30</text>
<text transform="translate(1570.3,1473.8) scale(1,1.02)">35</text>
<text transform="translate(1809.9,1473.8) scale(1,1.02)">40</text>
</g>
<text transform="translate(970.8,1583.1) scale(1,1.03)" font-size="71.5" text-anchor="middle">2ɵ (°)</text>
<text transform="translate(73.7,708) rotate(-90) scale(1,1.03)" font-size="70" text-anchor="middle">Intensity (a.u.)</text>
<g font-size="44.7">
<line x1="147.7" y1="74.65" x2="247.2" y2="74.65" stroke="#000000" stroke-width="3" stroke-linecap="round"/>
<text transform="translate(259.4,90.1) scale(1,1.03)">Myricetin</text>
<line x1="147.7" y1="130.0" x2="247.2" y2="130.0" stroke="#ff0000" stroke-width="3" stroke-linecap="round"/>
<text transform="translate(259.4,145.4) scale(1,1.03)">PVP30</text>
<line x1="147.7" y1="184.1" x2="247.2" y2="184.1" stroke="#0000ff" stroke-width="3" stroke-linecap="round"/>
<text transform="translate(259.4,199.5) scale(1,1.03)">MYR-PVP 1:9 w/w</text>
<line x1="147.7" y1="239.4" x2="247.2" y2="239.4" stroke="#008000" stroke-width="3" stroke-linecap="round"/>
<text transform="translate(259.4,254.8) scale(1,1.03)">MYR-PVP 1:9 w/w after solubility study</text>
</g>
<g font-size="50.5" text-anchor="middle">
<text transform="translate(465.2,563.8) scale(1,1.02)">12.0</text>
<text transform="translate(834.9,555.7) scale(1,1.02)">19.8</text>
<text transform="translate(438.3,767.7) scale(1,1.02)">11.4</text>
<text transform="translate(868.6,727.4) scale(1,1.02)">20.4</text>
<text transform="translate(436.4,973.2) scale(1,1.02)">11.3</text>
<text transform="translate(880.3,1012.9) scale(1,1.02)">20.6</text>
</g>
<g stroke="#000" stroke-width="1.6" fill="none">
<line x1="438.7" y1="779" x2="438.7" y2="808.6"/>
<line x1="869.1" y1="737.7" x2="869.1" y2="768.3"/>
<line x1="436.7" y1="984.5" x2="435.1" y2="1004.5"/>
<line x1="881" y1="1023.2" x2="881" y2="1061.9"/>
</g>
</svg></body></html>
